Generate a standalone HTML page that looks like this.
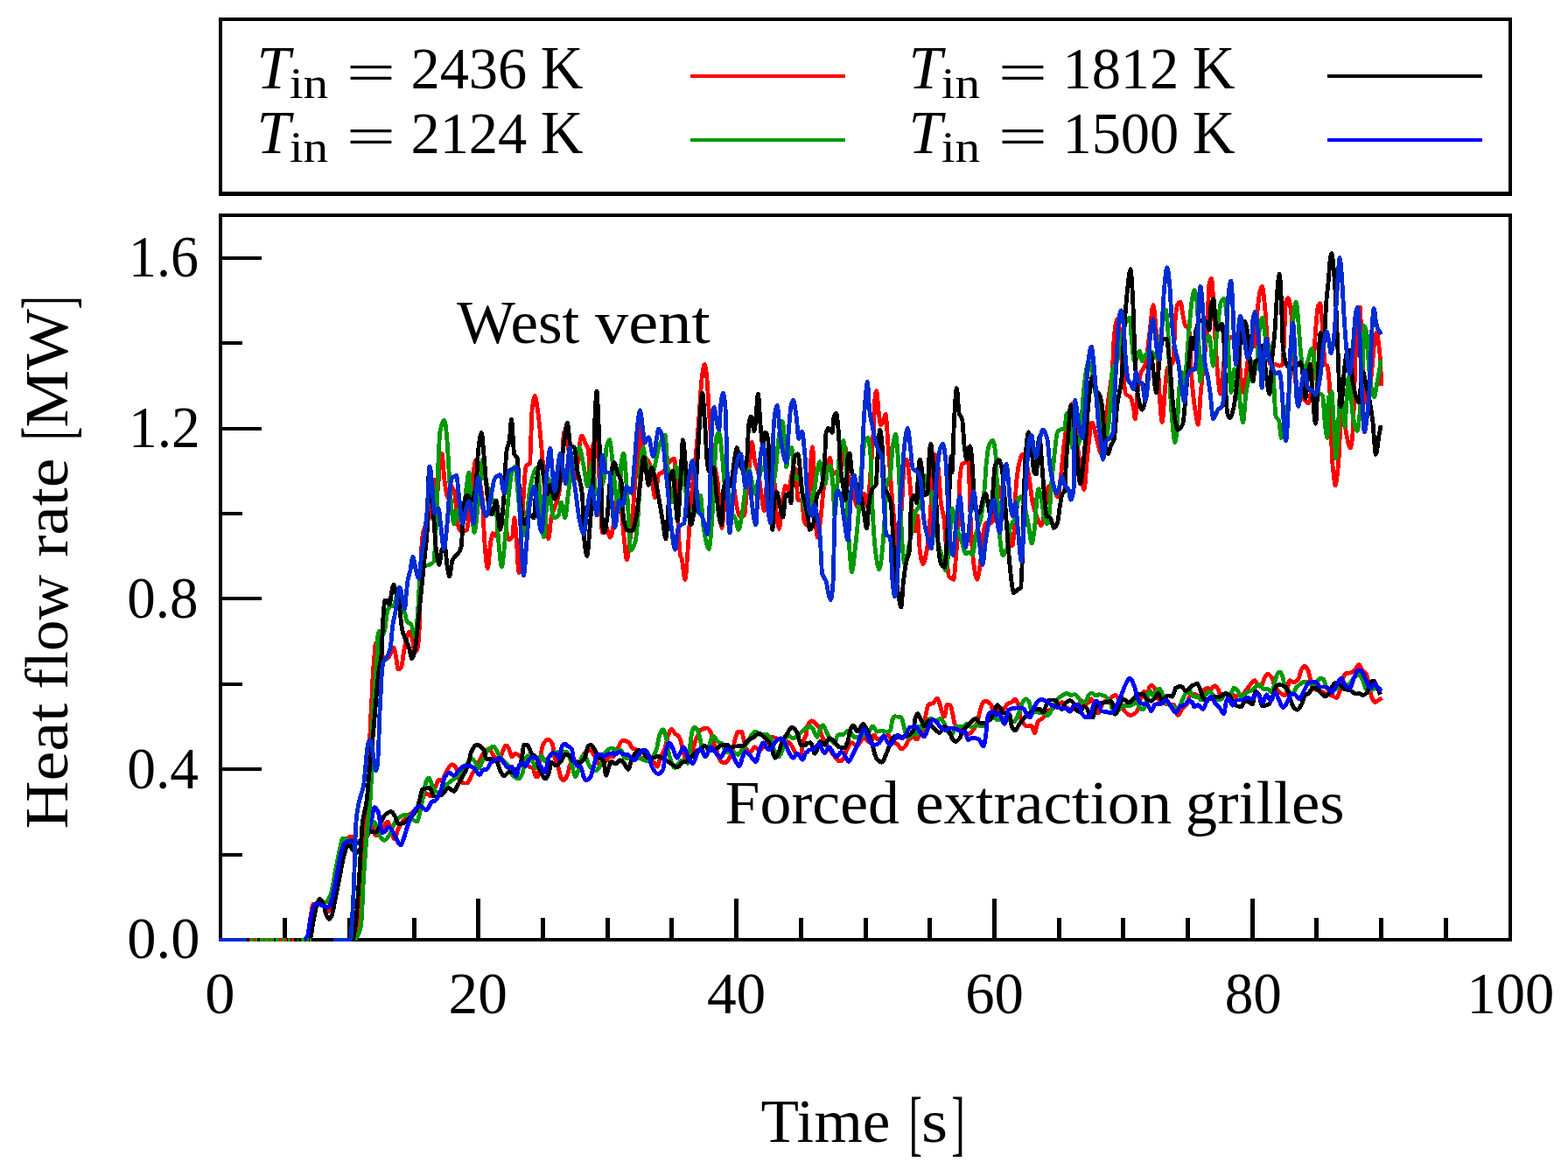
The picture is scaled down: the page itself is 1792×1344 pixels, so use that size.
<!DOCTYPE html>
<html lang="en"><head><meta charset="utf-8"><title>Heat flow rate</title>
<style>
html,body{margin:0;padding:0;background:#fff;}
body{width:1792px;height:1344px;overflow:hidden;}
svg{display:block;}
text{font-family:"Liberation Serif","Times New Roman",serif;fill:#000;white-space:pre;}
.c{fill:none;stroke-width:4.8;stroke-linejoin:round;stroke-linecap:butt;}
.ax{fill:none;stroke:#000;stroke-width:4;stroke-linecap:butt;stroke-linejoin:miter;}
.b{fill:none;stroke-width:4;}
</style></head><body>
<svg width="1792" height="1344" viewBox="0 0 1792 1344">
<rect x="0" y="0" width="1792" height="1344" fill="#ffffff"/>
<g id="axes" shape-rendering="crispEdges">
<path class="ax" d="M252 977H277M252 879H299M252 782H277M252 684H299M252 587H277M252 490H299M252 392H277M252 295H299"/>
<path class="ax" style="stroke-width:5" d="M325.5 1074V1049M399.5 1074V1049M473.5 1074V1049M546.5 1074V1027M620.5 1074V1049M694.5 1074V1049M767.5 1074V1049M841.5 1074V1027M915.5 1074V1049M989.5 1074V1049M1062.5 1074V1049M1136.5 1074V1027M1210.5 1074V1049M1283.5 1074V1049M1357.5 1074V1049M1431.5 1074V1027M1504.5 1074V1049M1578.5 1074V1049M1652.5 1074V1049"/>
<path class="ax" style="stroke-width:1" d="M250 219.5H1728"/>
<rect class="ax" x="252" y="246" width="1474" height="828"/>
<rect class="ax" x="252" y="22" width="1474" height="200"/>
</g>
<g id="curves" shape-rendering="crispEdges">
<path class="c" stroke="#ff0000" d="M348.6 1074.0C349.7 1073.0 350.7 1072.8 351.8 1071.0C352.6 1069.6 353.4 1058.7 354.2 1053.5C355.5 1045.7 356.8 1032.9 358.0 1032.9C360.1 1032.9 362.2 1032.9 364.2 1032.9C366.3 1032.9 368.4 1034.5 370.5 1036.0C372.2 1037.2 373.8 1041.6 375.5 1041.6C377.2 1041.6 378.8 1034.7 380.5 1028.5C382.2 1022.3 383.8 1006.5 385.5 997.2C387.2 988.0 388.8 977.8 390.5 972.2C392.2 966.7 393.8 961.6 395.5 959.8C397.4 957.7 399.2 955.8 401.1 955.8C402.6 955.8 404.0 958.5 405.5 959.8C407.2 961.1 408.8 963.5 410.5 963.5C413.0 963.5 415.5 959.0 418.0 956.0C420.5 953.0 423.0 945.0 425.5 945.0C426.8 945.0 428.0 954.8 429.2 954.8C430.9 954.8 432.6 954.2 434.2 953.5C435.9 952.8 437.6 946.1 439.2 943.5C440.5 941.6 441.8 938.8 443.0 938.8C444.2 938.8 445.5 944.0 446.8 947.2C448.0 950.5 449.2 958.5 450.5 958.5C452.2 958.5 453.8 949.4 455.5 946.2C457.2 943.1 458.8 940.6 460.5 938.5C463.0 935.4 465.5 933.0 468.0 931.0C470.5 929.0 473.0 927.4 475.5 926.0C477.2 925.1 478.8 925.2 480.5 923.5C481.2 922.8 481.8 917.1 482.5 915.0C483.8 911.1 485.0 906.2 486.2 906.2C488.3 906.2 490.4 910.0 492.5 910.0C494.2 910.0 495.8 903.6 497.5 900.0C498.8 897.3 500.0 891.2 501.2 891.2C502.5 891.2 503.8 892.5 505.0 892.5C506.2 892.5 507.5 887.2 508.8 885.0C511.2 880.6 513.8 873.8 516.2 873.8C517.9 873.8 519.6 875.2 521.2 877.5C522.1 878.7 522.9 887.2 523.8 888.8C525.8 892.5 527.9 895.0 530.0 895.0C531.2 895.0 532.5 895.0 533.8 895.0C535.8 895.0 537.9 887.5 540.0 883.8C542.1 880.0 544.2 876.2 546.2 872.5C548.3 868.8 550.4 863.6 552.5 861.2C554.6 858.9 556.7 856.2 558.8 856.2C560.8 856.2 562.9 862.6 565.0 865.0C566.7 866.9 568.3 870.0 570.0 870.0C571.7 870.0 573.3 860.9 575.0 857.5C576.0 855.3 577.1 851.9 578.1 851.9C579.2 851.9 580.2 853.5 581.2 855.0C582.5 856.8 583.8 865.0 585.0 865.0C586.2 865.0 587.5 861.2 588.8 861.2C590.4 861.2 592.1 862.6 593.8 863.8C595.4 864.9 597.1 868.1 598.8 870.0C600.8 872.3 602.9 875.2 605.0 876.2C606.2 876.9 607.5 876.8 608.8 877.5C610.0 878.2 611.2 887.5 612.5 887.5C613.3 887.5 614.2 887.5 615.0 887.5C615.8 887.5 616.7 869.7 617.5 865.0C618.8 857.9 620.0 852.1 621.2 850.0C622.9 847.3 624.6 845.0 626.2 845.0C627.9 845.0 629.6 846.9 631.2 850.0C632.1 851.6 632.9 861.8 633.8 865.0C635.0 869.7 636.2 871.1 637.5 875.0C638.8 878.9 640.0 886.8 641.2 888.8C642.3 890.4 643.3 891.9 644.4 891.9C645.8 891.9 647.3 888.4 648.8 885.0C649.6 883.0 650.4 876.0 651.2 875.0C653.3 872.6 655.4 872.0 657.5 871.2C659.2 870.7 660.8 870.7 662.5 870.0C664.6 869.1 666.7 861.3 668.8 860.0C670.8 858.7 672.9 857.5 675.0 857.5C676.7 857.5 678.3 862.4 680.0 865.0C682.1 868.2 684.2 875.0 686.2 875.0C688.3 875.0 690.4 872.1 692.5 870.0C693.8 868.7 695.0 865.0 696.2 865.0C697.9 865.0 699.6 865.0 701.2 865.0C701.7 865.0 702.1 860.9 702.5 860.0C703.8 857.3 705.0 857.0 706.2 855.0C707.5 853.0 708.8 848.5 710.0 847.5C710.8 846.9 711.7 846.2 712.5 846.2C714.6 846.2 716.7 847.3 718.8 848.8C720.0 849.6 721.2 854.2 722.5 855.0C724.2 856.1 725.8 855.8 727.5 856.9C729.2 857.9 730.8 865.6 732.5 866.2C733.3 866.6 734.2 866.7 735.0 866.9C737.5 867.5 740.0 867.9 742.5 868.8C744.6 869.5 746.7 870.6 748.8 872.5C749.6 873.3 750.4 876.2 751.2 876.2C752.5 876.2 753.8 868.0 755.0 865.0C756.7 861.0 758.3 859.5 760.0 855.0C761.2 851.6 762.5 843.1 763.8 840.0C765.0 836.9 766.2 833.1 767.5 833.1C768.8 833.1 770.0 836.8 771.2 838.1C772.9 839.9 774.6 840.1 776.2 842.5C777.5 844.3 778.8 850.8 780.0 855.0C781.2 859.2 782.5 867.5 783.8 867.5C785.8 867.5 787.9 866.6 790.0 865.0C791.2 864.0 792.5 854.0 793.8 850.0C795.0 846.0 796.2 842.8 797.5 840.0C798.3 838.1 799.2 835.6 800.0 835.0C802.5 833.1 805.0 831.9 807.5 831.9C809.0 831.9 810.4 833.9 811.9 836.2C812.9 837.9 814.0 844.3 815.0 847.5C816.2 851.3 817.5 854.3 818.8 857.5C820.4 861.8 822.1 868.9 823.8 870.0C825.4 871.1 827.1 871.9 828.8 871.9C830.4 871.9 832.1 868.8 833.8 866.2C835.0 864.3 836.2 861.6 837.5 857.5C838.3 854.8 839.2 847.7 840.0 845.0C841.2 840.9 842.5 836.2 843.8 836.2C845.0 836.2 846.2 836.2 847.5 836.2C848.3 836.2 849.2 841.9 850.0 845.0C850.8 848.1 851.7 853.6 852.5 855.0C854.2 857.9 855.8 860.0 857.5 860.0C859.2 860.0 860.8 853.8 862.5 853.8C864.2 853.8 865.8 857.5 867.5 857.5C870.0 857.5 872.5 852.5 875.0 850.0C877.5 847.5 880.0 842.5 882.5 842.5C884.2 842.5 885.8 843.3 887.5 843.8C889.2 844.2 890.8 844.5 892.5 845.0C895.0 845.7 897.5 846.2 900.0 847.5C901.7 848.4 903.3 850.4 905.0 852.5C906.7 854.6 908.3 860.5 910.0 861.2C911.7 862.0 913.3 862.5 915.0 862.5C916.2 862.5 917.5 848.4 918.8 845.0C919.6 842.7 920.4 842.8 921.2 840.0C921.7 838.6 922.1 833.0 922.5 831.2C922.9 829.5 923.3 828.1 923.8 827.5C925.2 825.3 926.7 823.8 928.1 823.8C929.6 823.8 931.0 826.2 932.5 827.5C933.8 828.7 935.0 829.2 936.2 831.2C937.1 832.6 937.9 837.8 938.8 840.0C940.0 843.2 941.2 845.2 942.5 847.5C944.2 850.6 945.8 853.8 947.5 856.2C949.2 858.7 950.8 860.4 952.5 862.5C954.2 864.6 955.8 867.6 957.5 868.8C958.3 869.3 959.2 870.0 960.0 870.0C961.2 870.0 962.5 868.8 963.8 867.5C965.0 866.2 966.2 859.9 967.5 857.5C969.6 853.6 971.7 848.8 973.8 848.8C975.4 848.8 977.1 852.5 978.8 852.5C981.7 852.5 984.6 843.8 987.5 843.8C989.2 843.8 990.8 847.5 992.5 847.5C993.8 847.5 995.0 847.0 996.2 846.2C997.1 845.7 997.9 840.0 998.8 840.0C1000.0 840.0 1001.2 845.0 1002.5 845.0C1005.0 845.0 1007.5 843.5 1010.0 842.5C1011.7 841.8 1013.3 840.0 1015.0 840.0C1016.2 840.0 1017.5 845.0 1018.8 846.2C1021.2 848.8 1023.8 848.9 1026.2 851.2C1027.5 852.4 1028.8 856.2 1030.0 856.2C1031.7 856.2 1033.3 854.4 1035.0 852.5C1036.2 851.1 1037.5 846.0 1038.8 845.0C1040.4 843.6 1042.1 842.5 1043.8 842.5C1045.0 842.5 1046.2 845.0 1047.5 845.0C1048.8 845.0 1050.0 841.7 1051.2 840.0C1052.5 838.3 1053.8 837.8 1055.0 835.0C1055.8 833.1 1056.7 824.1 1057.5 820.0C1058.8 813.9 1060.0 805.6 1061.2 805.0C1062.9 804.2 1064.6 804.4 1066.2 803.8C1067.9 803.1 1069.6 798.1 1071.2 798.1C1072.1 798.1 1072.9 801.5 1073.8 803.8C1075.0 807.1 1076.2 814.0 1077.5 816.2C1078.1 817.4 1078.8 818.8 1079.4 818.8C1080.4 818.8 1081.5 805.0 1082.5 805.0C1083.8 805.0 1085.0 805.4 1086.2 806.2C1087.1 806.8 1087.9 812.7 1088.8 816.2C1089.6 819.8 1090.4 825.7 1091.2 827.5C1092.5 830.2 1093.8 831.3 1095.0 832.5C1097.5 834.8 1100.0 836.6 1102.5 837.5C1104.2 838.1 1105.8 838.8 1107.5 838.8C1109.2 838.8 1110.8 835.9 1112.5 833.8C1113.8 832.2 1115.0 830.4 1116.2 827.5C1117.5 824.6 1118.8 816.5 1120.0 812.5C1121.2 808.5 1122.5 803.5 1123.8 802.5C1124.6 801.8 1125.4 801.2 1126.2 801.2C1128.3 801.2 1130.4 802.7 1132.5 805.0C1133.3 805.9 1134.2 811.6 1135.0 812.5C1136.2 813.9 1137.5 815.0 1138.8 815.0C1140.0 815.0 1141.2 811.9 1142.5 811.9C1143.3 811.9 1144.2 813.8 1145.0 813.8C1145.8 813.8 1146.7 811.1 1147.5 810.0C1149.2 807.7 1150.8 804.6 1152.5 803.8C1153.8 803.1 1155.0 803.1 1156.2 802.5C1157.5 801.9 1158.8 799.4 1160.0 799.4C1161.2 799.4 1162.5 801.9 1163.8 805.0C1164.6 807.1 1165.4 817.4 1166.2 820.0C1167.5 823.9 1168.8 826.2 1170.0 827.5C1171.2 828.8 1172.5 830.0 1173.8 830.0C1175.4 830.0 1177.1 829.4 1178.8 829.4C1180.0 829.4 1181.2 837.5 1182.5 837.5C1183.8 837.5 1185.0 826.7 1186.2 825.0C1188.3 822.2 1190.4 822.2 1192.5 820.0C1194.2 818.2 1195.8 813.8 1197.5 812.5C1199.2 811.2 1200.8 810.9 1202.5 810.0C1205.0 808.6 1207.5 806.7 1210.0 805.0C1211.2 804.2 1212.5 802.5 1213.8 802.5C1215.0 802.5 1216.2 806.5 1217.5 807.5C1220.0 809.4 1222.5 811.2 1225.0 811.2C1227.5 811.2 1230.0 809.9 1232.5 807.5C1233.3 806.7 1234.2 800.0 1235.0 800.0C1236.2 800.0 1237.5 805.0 1238.8 805.0C1240.8 805.0 1242.9 803.9 1245.0 802.5C1245.8 801.9 1246.7 798.8 1247.5 798.8C1248.8 798.8 1250.0 804.8 1251.2 807.5C1252.5 810.2 1253.8 815.0 1255.0 815.0C1256.2 815.0 1257.5 809.8 1258.8 807.5C1260.0 805.2 1261.2 801.8 1262.5 801.2C1264.2 800.5 1265.8 800.7 1267.5 800.0C1268.8 799.5 1270.0 797.1 1271.2 796.2C1272.5 795.4 1273.8 794.4 1275.0 794.4C1276.2 794.4 1277.5 797.7 1278.8 800.0C1280.0 802.3 1281.2 806.7 1282.5 808.8C1284.2 811.5 1285.8 813.7 1287.5 815.0C1289.0 816.1 1290.4 817.5 1291.9 817.5C1293.8 817.5 1295.6 816.4 1297.5 815.0C1298.8 814.1 1300.0 811.9 1301.2 808.8C1302.1 806.7 1302.9 799.7 1303.8 797.5C1305.0 794.1 1306.2 790.6 1307.5 790.6C1308.8 790.6 1310.0 796.2 1311.2 796.2C1312.1 796.2 1312.9 786.1 1313.8 785.0C1314.6 783.9 1315.4 783.1 1316.2 783.1C1317.5 783.1 1318.8 785.2 1320.0 787.5C1320.8 789.1 1321.7 796.1 1322.5 797.5C1324.2 800.4 1325.8 801.6 1327.5 802.5C1330.0 803.8 1332.5 805.0 1335.0 805.0C1337.1 805.0 1339.2 805.0 1341.2 805.0C1342.9 805.0 1344.6 817.5 1346.2 817.5C1347.9 817.5 1349.6 812.0 1351.2 810.0C1352.9 808.0 1354.6 807.5 1356.2 805.0C1357.5 803.1 1358.8 796.4 1360.0 795.0C1360.8 794.1 1361.7 793.1 1362.5 793.1C1363.8 793.1 1365.0 793.5 1366.2 793.8C1368.3 794.2 1370.4 796.2 1372.5 796.2C1373.8 796.2 1375.0 790.0 1376.2 788.8C1377.5 787.5 1378.8 786.2 1380.0 786.2C1381.2 786.2 1382.5 788.8 1383.8 788.8C1384.6 788.8 1385.4 785.6 1386.2 785.0C1387.1 784.4 1387.9 783.8 1388.8 783.8C1390.0 783.8 1391.2 786.7 1392.5 788.8C1393.3 790.1 1394.2 793.8 1395.0 793.8C1397.1 793.8 1399.2 793.8 1401.2 793.8C1403.3 793.8 1405.4 792.5 1407.5 792.5C1408.8 792.5 1410.0 796.2 1411.2 796.2C1412.5 796.2 1413.8 795.4 1415.0 795.0C1416.7 794.5 1418.3 794.4 1420.0 793.8C1421.7 793.1 1423.3 789.6 1425.0 787.5C1426.7 785.4 1428.3 783.1 1430.0 781.2C1431.2 779.9 1432.5 777.5 1433.8 777.5C1435.0 777.5 1436.2 781.4 1437.5 782.5C1438.8 783.6 1440.0 785.0 1441.2 785.0C1442.5 785.0 1443.8 777.2 1445.0 775.0C1446.2 772.8 1447.5 770.0 1448.8 770.0C1450.4 770.0 1452.1 772.4 1453.8 775.0C1455.0 776.9 1456.2 784.3 1457.5 786.2C1459.2 788.8 1460.8 790.0 1462.5 791.2C1464.6 792.8 1466.7 795.0 1468.8 795.0C1469.6 795.0 1470.4 790.4 1471.2 787.5C1472.1 784.6 1472.9 777.5 1473.8 777.5C1475.4 777.5 1477.1 780.0 1478.8 780.0C1480.4 780.0 1482.1 778.3 1483.8 776.2C1485.0 774.7 1486.2 766.9 1487.5 765.0C1488.8 763.1 1490.0 761.2 1491.2 761.2C1492.5 761.2 1493.8 763.7 1495.0 766.2C1495.8 768.0 1496.7 773.4 1497.5 776.2C1498.8 780.6 1500.0 786.9 1501.2 787.5C1502.9 788.3 1504.6 788.2 1506.2 788.8C1508.3 789.4 1510.4 790.3 1512.5 791.2C1514.2 792.0 1515.8 793.2 1517.5 793.8C1519.2 794.3 1520.8 794.4 1522.5 795.0C1524.2 795.6 1525.8 797.5 1527.5 797.5C1528.8 797.5 1530.0 793.3 1531.2 790.0C1532.5 786.7 1533.8 778.3 1535.0 775.0C1535.8 772.8 1536.7 770.3 1537.5 770.0C1539.6 769.1 1541.7 769.4 1543.8 768.8C1545.4 768.2 1547.1 766.6 1548.8 765.0C1550.2 763.6 1551.7 759.4 1553.1 759.4C1554.2 759.4 1555.2 763.6 1556.2 765.0C1557.9 767.2 1559.6 767.3 1561.2 770.0C1562.5 772.1 1563.8 779.7 1565.0 785.0C1565.8 788.5 1566.7 794.2 1567.5 796.2C1568.8 799.4 1570.0 802.5 1571.2 802.5C1573.3 802.5 1575.4 800.1 1577.5 798.8C1578.1 798.4 1578.8 797.9 1579.4 797.5"/>
<path class="c" stroke="#009900" d="M349.9 1074.0C350.9 1073.0 352.0 1072.7 353.0 1071.0C354.0 1069.3 355.1 1059.5 356.1 1053.5C357.2 1047.5 358.2 1036.0 359.2 1034.8C360.9 1032.7 362.6 1031.6 364.2 1031.6C366.8 1031.6 369.2 1031.6 371.8 1031.6C373.8 1031.6 375.9 1027.2 378.0 1022.2C379.7 1018.3 381.3 1005.6 383.0 997.2C384.7 988.9 386.3 979.4 388.0 972.2C389.2 966.9 390.5 958.1 391.8 958.1C393.4 958.1 395.1 959.2 396.8 959.8C398.8 960.5 400.9 962.2 403.0 962.2C405.5 962.2 408.0 961.7 410.5 961.0C413.0 960.3 415.5 956.9 418.0 953.5C419.7 951.2 421.3 945.3 423.0 943.5C424.7 941.7 426.3 939.8 428.0 939.8C429.7 939.8 431.3 950.8 433.0 953.5C435.1 956.8 437.2 960.4 439.2 960.4C441.3 960.4 443.4 956.8 445.5 953.5C446.8 951.5 448.0 946.1 449.2 943.8C451.3 939.8 453.4 936.2 455.5 934.8C458.0 933.0 460.5 931.2 463.0 931.2C465.1 931.2 467.2 933.6 469.2 934.8C471.8 936.2 474.2 939.1 476.8 939.1C477.6 939.1 478.4 934.0 479.2 931.0C480.1 928.0 480.9 925.7 481.8 921.0C482.0 919.6 482.2 916.8 482.5 915.0C483.3 909.1 484.2 902.9 485.0 900.0C486.7 894.3 488.3 888.8 490.0 888.8C491.7 888.8 493.3 897.2 495.0 900.0C496.2 902.1 497.5 904.5 498.8 905.0C500.8 905.8 502.9 906.2 505.0 906.2C507.1 906.2 509.2 898.6 511.2 896.2C513.8 893.5 516.2 892.3 518.8 890.0C522.5 886.6 526.2 883.4 530.0 878.8C531.7 876.7 533.3 872.9 535.0 871.2C536.7 869.6 538.3 867.5 540.0 867.5C542.5 867.5 545.0 877.5 547.5 877.5C548.8 877.5 550.0 872.5 551.2 870.0C553.3 865.8 555.4 859.7 557.5 857.5C559.6 855.3 561.7 853.1 563.8 853.1C565.0 853.1 566.2 855.7 567.5 857.5C568.8 859.3 570.0 863.3 571.2 865.0C573.3 867.9 575.4 868.9 577.5 871.2C579.2 873.1 580.8 874.4 582.5 877.5C583.3 879.0 584.2 884.0 585.0 885.0C587.7 888.1 590.4 890.0 593.1 890.0C594.6 890.0 596.0 886.6 597.5 882.5C598.3 880.2 599.2 869.2 600.0 867.5C601.0 865.4 602.1 863.8 603.1 863.8C604.6 863.8 606.0 865.8 607.5 867.5C609.2 869.5 610.8 877.5 612.5 877.5C613.3 877.5 614.2 871.8 615.0 870.0C616.2 867.3 617.5 863.8 618.8 863.8C620.0 863.8 621.2 870.0 622.5 870.0C624.2 870.0 625.8 866.4 627.5 865.0C630.0 863.0 632.5 860.3 635.0 860.0C639.2 859.6 643.3 859.4 647.5 859.4C649.2 859.4 650.8 865.6 652.5 870.0C654.2 874.4 655.8 887.5 657.5 887.5C658.8 887.5 660.0 883.3 661.2 880.0C662.5 876.7 663.8 866.4 665.0 865.0C666.2 863.6 667.5 862.5 668.8 862.5C669.6 862.5 670.4 868.0 671.2 870.0C672.5 873.0 673.8 876.1 675.0 877.5C676.7 879.4 678.3 881.2 680.0 881.2C682.1 881.2 684.2 878.1 686.2 875.0C687.9 872.5 689.6 863.5 691.2 861.2C693.8 857.9 696.2 855.0 698.8 855.0C699.6 855.0 700.4 855.3 701.2 855.6C701.7 855.8 702.1 856.6 702.5 856.9C702.9 857.2 703.3 857.5 703.8 857.5C705.8 857.5 707.9 857.5 710.0 857.5C711.2 857.5 712.5 866.2 713.8 866.2C715.8 866.2 717.9 866.2 720.0 866.2C723.3 866.2 726.7 866.2 730.0 866.2C733.3 866.2 736.7 870.0 740.0 870.0C743.3 870.0 746.7 864.7 750.0 857.5C751.2 854.8 752.5 843.1 753.8 840.0C755.0 836.9 756.2 833.8 757.5 833.8C758.8 833.8 760.0 838.4 761.2 842.5C762.5 846.6 763.8 859.6 765.0 863.8C767.1 870.6 769.2 877.5 771.2 877.5C773.3 877.5 775.4 870.8 777.5 870.0C779.2 869.3 780.8 868.8 782.5 868.8C783.8 868.8 785.0 872.5 786.2 872.5C787.1 872.5 787.9 857.4 788.8 851.2C789.6 845.1 790.4 836.7 791.2 835.0C792.3 832.8 793.3 831.2 794.4 831.2C795.8 831.2 797.3 835.0 798.8 838.8C799.6 840.9 800.4 846.9 801.2 850.0C802.9 856.1 804.6 865.0 806.2 865.0C807.5 865.0 808.8 861.2 810.0 857.5C810.8 855.0 811.7 846.7 812.5 845.0C813.5 842.9 814.6 841.2 815.6 841.2C817.1 841.2 818.5 846.4 820.0 847.5C821.7 848.7 823.3 848.7 825.0 850.0C826.7 851.3 828.3 860.0 830.0 860.0C832.1 860.0 834.2 858.8 836.2 858.8C838.8 858.8 841.2 862.5 843.8 862.5C845.0 862.5 846.2 859.2 847.5 857.5C850.0 854.2 852.5 851.6 855.0 847.5C856.2 845.5 857.5 841.4 858.8 840.0C860.4 838.1 862.1 836.2 863.8 836.2C865.8 836.2 867.9 840.0 870.0 840.0C872.1 840.0 874.2 839.4 876.2 839.4C877.9 839.4 879.6 842.1 881.2 845.0C882.5 847.2 883.8 854.9 885.0 857.5C886.7 861.0 888.3 865.0 890.0 865.0C891.7 865.0 893.3 859.0 895.0 855.0C896.7 851.0 898.3 840.0 900.0 840.0C902.1 840.0 904.2 843.8 906.2 843.8C908.3 843.8 910.4 841.6 912.5 840.0C914.2 838.7 915.8 836.5 917.5 835.0C918.8 833.9 920.0 831.9 921.2 831.9C921.7 831.9 922.1 832.5 922.5 832.5C923.3 832.5 924.2 830.0 925.0 830.0C926.2 830.0 927.5 831.3 928.8 832.5C930.4 834.1 932.1 842.5 933.8 842.5C935.0 842.5 936.2 834.5 937.5 832.5C938.5 830.8 939.6 828.8 940.6 828.8C942.1 828.8 943.5 834.9 945.0 837.5C946.2 839.8 947.5 842.0 948.8 843.8C950.4 846.1 952.1 850.0 953.8 850.0C955.0 850.0 956.2 840.3 957.5 840.0C959.6 839.6 961.7 839.8 963.8 839.4C965.4 839.1 967.1 835.0 968.8 835.0C970.0 835.0 971.2 836.4 972.5 837.5C973.8 838.6 975.0 842.5 976.2 842.5C977.9 842.5 979.6 842.5 981.2 842.5C983.3 842.5 985.4 841.1 987.5 840.0C989.6 838.9 991.7 837.1 993.8 835.0C995.0 833.7 996.2 830.0 997.5 830.0C999.2 830.0 1000.8 836.2 1002.5 836.2C1004.2 836.2 1005.8 835.0 1007.5 835.0C1009.2 835.0 1010.8 836.2 1012.5 836.2C1014.2 836.2 1015.8 835.9 1017.5 835.0C1018.3 834.6 1019.2 824.4 1020.0 822.5C1020.8 820.6 1021.7 818.8 1022.5 818.8C1025.0 818.8 1027.5 819.1 1030.0 820.0C1030.8 820.3 1031.7 824.6 1032.5 827.5C1033.3 830.4 1034.2 835.8 1035.0 837.5C1036.2 840.1 1037.5 842.5 1038.8 842.5C1040.8 842.5 1042.9 837.5 1045.0 837.5C1045.8 837.5 1046.7 840.0 1047.5 840.0C1048.3 840.0 1049.2 830.0 1050.0 830.0C1051.7 830.0 1053.3 832.5 1055.0 832.5C1056.2 832.5 1057.5 826.4 1058.8 825.0C1060.4 823.1 1062.1 821.2 1063.8 821.2C1065.8 821.2 1067.9 823.8 1070.0 823.8C1071.7 823.8 1073.3 821.2 1075.0 821.2C1076.2 821.2 1077.5 824.1 1078.8 826.2C1080.0 828.4 1081.2 833.2 1082.5 835.0C1084.2 837.4 1085.8 840.0 1087.5 840.0C1089.2 840.0 1090.8 830.0 1092.5 830.0C1094.2 830.0 1095.8 830.0 1097.5 830.0C1098.8 830.0 1100.0 830.0 1101.2 830.0C1102.5 830.0 1103.8 826.9 1105.0 826.9C1106.7 826.9 1108.3 831.2 1110.0 831.2C1112.1 831.2 1114.2 828.8 1116.2 828.8C1118.3 828.8 1120.4 830.0 1122.5 830.0C1124.2 830.0 1125.8 826.4 1127.5 825.0C1130.0 823.0 1132.5 820.0 1135.0 820.0C1136.7 820.0 1138.3 822.5 1140.0 822.5C1140.8 822.5 1141.7 821.9 1142.5 821.9C1142.9 821.9 1143.3 822.5 1143.8 822.5C1145.0 822.5 1146.2 820.0 1147.5 820.0C1149.2 820.0 1150.8 821.8 1152.5 822.5C1154.6 823.4 1156.7 825.0 1158.8 825.0C1160.4 825.0 1162.1 819.8 1163.8 816.2C1165.4 812.7 1167.1 804.9 1168.8 802.5C1170.0 800.7 1171.2 798.8 1172.5 798.8C1173.8 798.8 1175.0 800.4 1176.2 802.5C1177.1 803.9 1177.9 812.1 1178.8 812.5C1180.4 813.4 1182.1 813.4 1183.8 813.8C1186.7 814.3 1189.6 814.3 1192.5 815.0C1194.2 815.4 1195.8 817.5 1197.5 817.5C1198.8 817.5 1200.0 814.5 1201.2 812.5C1202.5 810.5 1203.8 807.2 1205.0 805.0C1206.7 802.1 1208.3 799.0 1210.0 797.5C1211.7 796.0 1213.3 795.3 1215.0 794.4C1216.2 793.7 1217.5 792.5 1218.8 792.5C1220.4 792.5 1222.1 794.4 1223.8 794.4C1225.4 794.4 1227.1 793.8 1228.8 793.8C1230.0 793.8 1231.2 796.1 1232.5 797.5C1233.8 798.9 1235.0 802.5 1236.2 802.5C1237.9 802.5 1239.6 802.1 1241.2 801.2C1242.1 800.8 1242.9 796.1 1243.8 795.0C1245.0 793.4 1246.2 791.9 1247.5 791.9C1249.2 791.9 1250.8 795.0 1252.5 795.0C1253.8 795.0 1255.0 793.8 1256.2 793.8C1258.8 793.8 1261.2 794.9 1263.8 796.2C1265.4 797.2 1267.1 799.4 1268.8 802.5C1269.6 804.0 1270.4 808.2 1271.2 810.0C1272.5 812.7 1273.8 816.2 1275.0 816.2C1276.2 816.2 1277.5 812.7 1278.8 811.2C1280.4 809.3 1282.1 806.2 1283.8 806.2C1286.7 806.2 1289.6 806.2 1292.5 806.2C1294.6 806.2 1296.7 802.5 1298.8 802.5C1300.0 802.5 1301.2 807.2 1302.5 808.8C1303.3 809.8 1304.2 811.2 1305.0 811.2C1306.2 811.2 1307.5 809.5 1308.8 807.5C1310.0 805.5 1311.2 794.4 1312.5 792.5C1313.3 791.2 1314.2 790.0 1315.0 790.0C1315.8 790.0 1316.7 795.0 1317.5 795.0C1318.3 795.0 1319.2 793.4 1320.0 792.5C1321.7 790.7 1323.3 786.9 1325.0 786.9C1326.2 786.9 1327.5 790.7 1328.8 793.8C1329.6 795.8 1330.4 801.7 1331.2 802.5C1332.9 804.1 1334.6 804.1 1336.2 805.0C1338.3 806.1 1340.4 807.9 1342.5 808.8C1343.8 809.3 1345.0 810.0 1346.2 810.0C1347.9 810.0 1349.6 803.3 1351.2 800.0C1352.5 797.5 1353.8 793.5 1355.0 792.5C1356.7 791.1 1358.3 790.0 1360.0 790.0C1360.8 790.0 1361.7 794.3 1362.5 795.0C1363.3 795.7 1364.2 796.2 1365.0 796.2C1366.2 796.2 1367.5 796.2 1368.8 796.2C1370.0 796.2 1371.2 800.0 1372.5 800.0C1374.2 800.0 1375.8 796.8 1377.5 795.0C1379.0 793.4 1380.4 790.0 1381.9 790.0C1383.3 790.0 1384.8 792.3 1386.2 793.8C1387.9 795.4 1389.6 800.0 1391.2 800.0C1392.9 800.0 1394.6 799.5 1396.2 798.8C1397.5 798.2 1398.8 792.5 1400.0 792.5C1402.1 792.5 1404.2 793.8 1406.2 793.8C1407.5 793.8 1408.8 786.2 1410.0 786.2C1411.7 786.2 1413.3 788.1 1415.0 790.0C1416.2 791.4 1417.5 797.5 1418.8 797.5C1420.0 797.5 1421.2 794.9 1422.5 793.8C1423.8 792.6 1425.0 791.3 1426.2 790.6C1427.9 789.7 1429.6 789.7 1431.2 788.8C1432.5 788.1 1433.8 785.8 1435.0 785.0C1436.7 783.9 1438.3 782.5 1440.0 782.5C1441.2 782.5 1442.5 787.5 1443.8 787.5C1445.4 787.5 1447.1 787.5 1448.8 787.5C1450.4 787.5 1452.1 791.2 1453.8 791.2C1455.0 791.2 1456.2 781.6 1457.5 777.5C1458.3 774.8 1459.2 770.9 1460.0 770.0C1461.0 768.9 1462.1 768.1 1463.1 768.1C1464.2 768.1 1465.2 771.9 1466.2 775.0C1467.1 777.5 1467.9 784.8 1468.8 786.2C1470.0 788.4 1471.2 789.2 1472.5 790.0C1474.2 791.1 1475.8 792.5 1477.5 792.5C1478.8 792.5 1480.0 787.8 1481.2 786.2C1482.5 784.7 1483.8 783.5 1485.0 782.5C1486.7 781.2 1488.3 779.4 1490.0 779.4C1491.7 779.4 1493.3 779.7 1495.0 780.0C1496.7 780.3 1498.3 783.1 1500.0 783.1C1501.7 783.1 1503.3 781.4 1505.0 780.0C1506.2 778.9 1507.5 775.0 1508.8 775.0C1510.0 775.0 1511.2 775.5 1512.5 776.2C1513.8 777.0 1515.0 784.7 1516.2 786.2C1517.9 788.3 1519.6 790.0 1521.2 790.0C1523.8 790.0 1526.2 787.6 1528.8 786.2C1530.8 785.1 1532.9 782.5 1535.0 782.5C1537.1 782.5 1539.2 782.5 1541.2 782.5C1542.5 782.5 1543.8 778.9 1545.0 777.5C1546.7 775.6 1548.3 773.3 1550.0 772.5C1551.2 771.9 1552.5 771.2 1553.8 771.2C1555.0 771.2 1556.2 774.9 1557.5 777.5C1558.8 780.1 1560.0 786.9 1561.2 787.5C1562.9 788.3 1564.6 788.8 1566.2 788.8C1568.3 788.8 1570.4 786.2 1572.5 786.2C1574.6 786.2 1576.7 787.1 1578.8 787.5"/>
<path class="c" stroke="#000000" d="M351.8 1074.0C352.8 1073.0 353.8 1072.7 354.9 1071.0C355.9 1069.3 357.0 1058.9 358.0 1053.5C359.2 1047.0 360.5 1039.0 361.8 1035.4C363.0 1031.7 364.2 1027.5 365.5 1027.5C366.8 1027.5 368.0 1029.9 369.2 1032.2C370.5 1034.6 371.8 1043.5 373.0 1046.0C374.0 1048.1 375.1 1050.4 376.1 1050.4C377.2 1050.4 378.2 1048.2 379.2 1046.0C380.5 1043.4 381.8 1034.5 383.0 1028.5C384.7 1020.5 386.3 1011.8 388.0 1003.5C389.7 995.2 391.3 984.6 393.0 978.5C394.2 973.9 395.5 968.4 396.8 967.5C397.8 966.8 398.8 966.2 399.9 966.2C400.9 966.2 402.0 969.7 403.0 971.0C404.2 972.5 405.5 974.8 406.8 974.8C409.2 974.8 411.8 969.4 414.2 966.0C417.4 961.7 420.5 950.4 423.6 950.4C425.5 950.4 427.4 951.2 429.2 951.2C430.3 951.2 431.3 949.4 432.4 947.9C433.8 945.7 435.3 939.3 436.8 936.6C438.4 933.6 440.1 930.9 441.8 929.8C443.4 928.6 445.1 927.5 446.8 927.5C448.2 927.5 449.7 930.1 451.1 932.2C452.6 934.4 454.0 941.6 455.5 941.6C457.2 941.6 458.8 941.4 460.5 941.0C462.2 940.6 463.8 938.9 465.5 937.5C467.2 936.1 468.8 934.0 470.5 932.2C471.8 931.0 473.0 930.2 474.2 928.5C475.9 926.2 477.6 921.3 479.2 916.0C480.3 912.6 481.4 903.2 482.5 902.5C483.8 901.7 485.0 901.5 486.2 901.2C487.9 900.9 489.6 900.6 491.2 900.6C492.7 900.6 494.2 910.0 495.6 910.0C497.1 910.0 498.5 910.0 500.0 910.0C501.7 910.0 503.3 909.0 505.0 908.1C507.5 906.8 510.0 900.6 512.5 900.6C514.6 900.6 516.7 904.4 518.8 904.4C520.4 904.4 522.1 899.1 523.8 896.2C525.8 892.7 527.9 889.0 530.0 885.0C531.2 882.6 532.5 880.7 533.8 877.5C534.6 875.3 535.4 871.9 536.2 868.8C537.1 865.6 537.9 860.4 538.8 858.8C540.8 854.6 542.9 851.2 545.0 851.2C547.5 851.2 550.0 853.3 552.5 856.2C553.8 857.7 555.0 867.5 556.2 867.5C557.9 867.5 559.6 867.5 561.2 867.5C563.3 867.5 565.4 868.5 567.5 870.0C569.2 871.2 570.8 879.9 572.5 882.5C573.8 884.5 575.0 886.9 576.2 886.9C577.9 886.9 579.6 882.8 581.2 882.5C583.3 882.1 585.4 882.3 587.5 881.9C589.2 881.6 590.8 879.8 592.5 877.5C593.8 875.8 595.0 872.4 596.2 867.5C597.1 864.3 597.9 851.2 598.8 851.2C600.0 851.2 601.2 851.2 602.5 851.2C604.2 851.2 605.8 859.4 607.5 861.2C609.2 863.1 610.8 862.9 612.5 865.0C613.8 866.6 615.0 874.6 616.2 877.5C618.8 883.3 621.2 890.0 623.8 890.0C625.0 890.0 626.2 886.1 627.5 882.5C628.3 880.1 629.2 871.2 630.0 871.2C631.7 871.2 633.3 875.0 635.0 875.0C637.1 875.0 639.2 872.3 641.2 870.0C642.9 868.2 644.6 861.9 646.2 861.9C647.9 861.9 649.6 862.7 651.2 863.8C652.5 864.5 653.8 869.3 655.0 870.0C657.1 871.1 659.2 871.9 661.2 871.9C663.3 871.9 665.4 869.9 667.5 867.5C669.2 865.6 670.8 853.8 672.5 852.5C673.3 851.8 674.2 851.2 675.0 851.2C676.7 851.2 678.3 855.1 680.0 857.5C681.7 859.9 683.3 864.5 685.0 866.2C686.7 868.0 688.3 867.5 690.0 870.0C690.8 871.2 691.7 886.2 692.5 886.2C693.8 886.2 695.0 878.0 696.2 875.0C697.1 873.0 697.9 870.0 698.8 870.0C699.6 870.0 700.4 871.4 701.2 871.9C701.7 872.1 702.1 872.3 702.5 872.5C702.9 872.7 703.3 873.1 703.8 873.1C705.4 873.1 707.1 868.8 708.8 868.8C710.0 868.8 711.2 870.1 712.5 871.2C714.4 872.9 716.2 879.4 718.1 879.4C719.2 879.4 720.2 872.5 721.2 870.0C722.5 867.0 723.8 864.2 725.0 862.5C726.7 860.2 728.3 857.5 730.0 857.5C731.7 857.5 733.3 858.8 735.0 860.0C736.7 861.2 738.3 866.2 740.0 866.2C742.1 866.2 744.2 866.2 746.2 866.2C747.9 866.2 749.6 864.4 751.2 864.4C752.9 864.4 754.6 865.4 756.2 866.2C757.5 866.9 758.8 868.0 760.0 868.8C761.7 869.7 763.3 870.2 765.0 871.2C766.7 872.2 768.3 874.1 770.0 875.0C771.5 875.8 772.9 876.9 774.4 876.9C776.2 876.9 778.1 872.0 780.0 871.2C781.7 870.6 783.3 870.7 785.0 870.0C786.7 869.3 788.3 866.7 790.0 865.0C792.1 862.9 794.2 860.5 796.2 858.8C797.9 857.3 799.6 856.0 801.2 855.0C802.9 854.0 804.6 852.5 806.2 852.5C807.5 852.5 808.8 857.5 810.0 857.5C811.7 857.5 813.3 857.5 815.0 857.5C816.7 857.5 818.3 856.1 820.0 855.0C821.2 854.2 822.5 852.1 823.8 851.9C826.2 851.5 828.8 851.2 831.2 851.2C832.5 851.2 833.8 855.0 835.0 855.0C836.2 855.0 837.5 853.3 838.8 853.1C842.5 852.7 846.2 853.0 850.0 852.5C851.2 852.3 852.5 848.0 853.8 846.9C856.2 844.7 858.8 844.1 861.2 842.5C863.3 841.2 865.4 838.1 867.5 838.1C869.2 838.1 870.8 840.5 872.5 841.9C874.6 843.7 876.7 845.0 878.8 848.1C880.0 850.0 881.2 854.2 882.5 857.5C883.5 860.3 884.6 866.2 885.6 866.2C887.1 866.2 888.5 862.9 890.0 860.0C891.2 857.5 892.5 850.1 893.8 847.5C895.4 844.0 897.1 842.4 898.8 840.0C900.8 837.0 902.9 831.2 905.0 831.2C907.1 831.2 909.2 834.1 911.2 837.5C912.5 839.6 913.8 850.9 915.0 851.2C916.7 851.7 918.3 851.9 920.0 851.9C920.8 851.9 921.7 849.6 922.5 849.4C923.8 849.0 925.0 848.8 926.2 848.8C927.9 848.8 929.6 861.2 931.2 861.2C933.3 861.2 935.4 847.5 937.5 847.5C939.2 847.5 940.8 851.2 942.5 851.2C944.2 851.2 945.8 843.8 947.5 843.8C949.2 843.8 950.8 845.1 952.5 846.2C954.6 847.7 956.7 853.0 958.8 853.8C960.8 854.5 962.9 855.0 965.0 855.0C966.2 855.0 967.5 850.8 968.8 847.5C970.0 844.2 971.2 835.1 972.5 832.5C973.3 830.7 974.2 828.8 975.0 828.8C976.7 828.8 978.3 836.2 980.0 836.2C982.1 836.2 984.2 827.5 986.2 827.5C987.9 827.5 989.6 831.8 991.2 835.0C992.9 838.2 994.6 843.5 996.2 848.8C997.5 852.7 998.8 859.1 1000.0 862.5C1000.8 864.8 1001.7 867.3 1002.5 868.1C1004.4 869.9 1006.2 871.2 1008.1 871.2C1009.6 871.2 1011.0 865.7 1012.5 862.5C1014.2 858.8 1015.8 853.4 1017.5 850.0C1019.2 846.6 1020.8 841.2 1022.5 841.2C1024.6 841.2 1026.7 842.5 1028.8 842.5C1032.1 842.5 1035.4 841.4 1038.8 840.0C1040.4 839.3 1042.1 838.1 1043.8 835.0C1044.6 833.4 1045.4 822.3 1046.2 820.0C1047.1 817.7 1047.9 815.6 1048.8 815.6C1050.0 815.6 1051.2 820.1 1052.5 822.5C1053.8 824.9 1055.0 830.0 1056.2 830.0C1057.9 830.0 1059.6 823.8 1061.2 823.8C1062.5 823.8 1063.8 828.4 1065.0 830.0C1066.7 832.1 1068.3 833.7 1070.0 835.0C1071.2 836.0 1072.5 837.5 1073.8 837.5C1075.8 837.5 1077.9 830.0 1080.0 830.0C1081.7 830.0 1083.3 833.5 1085.0 836.2C1086.2 838.3 1087.5 843.5 1088.8 845.0C1089.8 846.2 1090.8 847.5 1091.9 847.5C1093.8 847.5 1095.6 845.3 1097.5 842.5C1098.3 841.3 1099.2 836.3 1100.0 835.0C1101.7 832.4 1103.3 831.7 1105.0 830.0C1106.7 828.3 1108.3 826.4 1110.0 825.0C1111.7 823.6 1113.3 821.2 1115.0 821.2C1116.7 821.2 1118.3 826.2 1120.0 826.2C1121.7 826.2 1123.3 826.2 1125.0 826.2C1127.5 826.2 1130.0 823.9 1132.5 821.2C1134.2 819.5 1135.8 813.2 1137.5 810.0C1138.3 808.4 1139.2 805.6 1140.0 805.6C1140.8 805.6 1141.7 807.8 1142.5 808.8C1142.9 809.2 1143.3 809.5 1143.8 810.0C1144.6 811.1 1145.4 815.0 1146.2 815.0C1147.5 815.0 1148.8 815.0 1150.0 815.0C1151.2 815.0 1152.5 815.4 1153.8 816.2C1154.6 816.8 1155.4 828.1 1156.2 830.0C1157.5 832.8 1158.8 835.0 1160.0 835.0C1161.7 835.0 1163.3 829.7 1165.0 827.5C1167.1 824.7 1169.2 822.3 1171.2 820.0C1172.9 818.2 1174.6 816.3 1176.2 815.0C1178.3 813.4 1180.4 812.0 1182.5 811.2C1184.2 810.7 1185.8 810.0 1187.5 810.0C1189.2 810.0 1190.8 813.8 1192.5 813.8C1193.8 813.8 1195.0 807.7 1196.2 805.0C1197.1 803.2 1197.9 800.0 1198.8 800.0C1201.2 800.0 1203.8 800.0 1206.2 800.0C1207.5 800.0 1208.8 806.0 1210.0 807.5C1211.2 809.0 1212.5 810.6 1213.8 810.6C1215.0 810.6 1216.2 804.9 1217.5 803.8C1219.2 802.2 1220.8 800.6 1222.5 800.6C1223.8 800.6 1225.0 801.5 1226.2 802.5C1227.5 803.5 1228.8 810.0 1230.0 811.2C1231.2 812.5 1232.5 813.8 1233.8 813.8C1235.4 813.8 1237.1 807.5 1238.8 807.5C1240.0 807.5 1241.2 808.7 1242.5 810.0C1243.8 811.3 1245.0 820.0 1246.2 820.0C1247.1 820.0 1247.9 820.0 1248.8 820.0C1250.0 820.0 1251.2 809.1 1252.5 807.5C1254.2 805.4 1255.8 804.2 1257.5 803.8C1260.0 803.0 1262.5 803.0 1265.0 802.5C1266.7 802.2 1268.3 801.2 1270.0 801.2C1270.8 801.2 1271.7 804.7 1272.5 807.5C1273.1 809.6 1273.8 816.2 1274.4 816.2C1275.8 816.2 1277.3 810.2 1278.8 807.5C1280.4 804.4 1282.1 798.8 1283.8 798.8C1285.8 798.8 1287.9 803.1 1290.0 803.1C1292.1 803.1 1294.2 799.3 1296.2 797.5C1297.9 796.0 1299.6 793.1 1301.2 793.1C1302.9 793.1 1304.6 793.1 1306.2 793.1C1307.5 793.1 1308.8 797.8 1310.0 798.8C1311.7 800.0 1313.3 801.2 1315.0 801.2C1316.7 801.2 1318.3 799.1 1320.0 797.5C1321.2 796.3 1322.5 792.5 1323.8 792.5C1325.0 792.5 1326.2 800.0 1327.5 800.0C1330.0 800.0 1332.5 795.0 1335.0 795.0C1336.7 795.0 1338.3 796.2 1340.0 796.2C1341.2 796.2 1342.5 787.0 1343.8 786.2C1345.8 785.0 1347.9 784.4 1350.0 784.4C1351.7 784.4 1353.3 789.4 1355.0 789.4C1357.1 789.4 1359.2 787.0 1361.2 785.0C1361.7 784.6 1362.1 783.7 1362.5 783.5C1362.9 783.3 1363.3 783.3 1363.8 783.1C1365.2 782.6 1366.7 781.2 1368.1 781.2C1369.6 781.2 1371.0 786.7 1372.5 790.0C1373.8 792.9 1375.0 800.0 1376.2 800.0C1378.3 800.0 1380.4 799.3 1382.5 798.8C1384.6 798.2 1386.7 796.2 1388.8 796.2C1390.8 796.2 1392.9 796.2 1395.0 796.2C1396.7 796.2 1398.3 792.5 1400.0 792.5C1401.7 792.5 1403.3 793.8 1405.0 795.0C1406.7 796.2 1408.3 800.3 1410.0 802.5C1411.2 804.1 1412.5 806.6 1413.8 806.9C1415.4 807.3 1417.1 807.5 1418.8 807.5C1420.0 807.5 1421.2 801.2 1422.5 801.2C1424.2 801.2 1425.8 801.9 1427.5 802.5C1428.8 803.0 1430.0 805.0 1431.2 805.0C1432.5 805.0 1433.8 790.0 1435.0 790.0C1436.2 790.0 1437.5 791.8 1438.8 793.8C1440.0 795.7 1441.2 806.9 1442.5 806.9C1445.0 806.9 1447.5 806.2 1450.0 805.0C1451.7 804.2 1453.3 797.8 1455.0 793.8C1456.2 790.7 1457.5 784.5 1458.8 783.8C1460.0 783.0 1461.2 782.5 1462.5 782.5C1464.6 782.5 1466.7 783.6 1468.8 785.0C1470.0 785.8 1471.2 788.4 1472.5 791.2C1473.3 793.2 1474.2 797.6 1475.0 800.0C1476.2 803.5 1477.5 807.5 1478.8 808.8C1480.0 810.0 1481.2 811.2 1482.5 811.2C1484.2 811.2 1485.8 807.9 1487.5 805.0C1488.8 802.8 1490.0 796.3 1491.2 795.0C1492.9 793.3 1494.6 793.4 1496.2 791.9C1497.5 790.8 1498.8 786.2 1500.0 786.2C1501.2 786.2 1502.5 786.2 1503.8 786.2C1505.8 786.2 1507.9 790.7 1510.0 792.5C1511.7 793.9 1513.3 796.2 1515.0 796.2C1516.7 796.2 1518.3 792.6 1520.0 790.0C1521.2 788.1 1522.5 783.8 1523.8 782.5C1525.0 781.2 1526.2 780.0 1527.5 780.0C1529.2 780.0 1530.8 782.3 1532.5 783.8C1533.8 784.8 1535.0 787.1 1536.2 787.5C1538.3 788.2 1540.4 788.1 1542.5 788.8C1545.0 789.5 1547.5 793.1 1550.0 793.1C1551.2 793.1 1552.5 792.5 1553.8 792.5C1555.0 792.5 1556.2 794.4 1557.5 794.4C1559.2 794.4 1560.8 793.0 1562.5 791.2C1563.8 789.9 1565.0 781.1 1566.2 780.0C1567.5 778.9 1568.8 778.1 1570.0 778.1C1571.2 778.1 1572.5 782.4 1573.8 785.0C1575.0 787.6 1576.2 790.8 1577.5 793.8"/>
<path class="c" stroke="#0000ff" d="M348.0 1074.0C349.0 1073.0 350.1 1072.7 351.1 1071.0C352.2 1069.3 353.2 1058.3 354.2 1053.5C355.9 1045.8 357.6 1035.1 359.2 1034.1C360.5 1033.4 361.8 1032.9 363.0 1032.9C365.1 1032.9 367.2 1034.7 369.2 1035.4C371.3 1036.0 373.4 1037.0 375.5 1037.0C376.8 1037.0 378.0 1032.3 379.2 1028.5C381.3 1022.2 383.4 1007.7 385.5 997.2C387.2 988.9 388.8 977.6 390.5 972.2C391.8 968.3 393.0 964.2 394.2 963.2C396.3 961.7 398.4 960.8 400.5 960.8C402.2 960.8 403.8 962.4 405.5 962.9C407.3 963.4 409.2 964.1 411.0 964.1C413.3 964.1 415.7 958.8 418.0 954.6C420.1 950.9 422.2 945.5 424.2 938.6C425.5 934.5 426.8 922.5 428.0 922.5C429.5 922.5 430.9 925.3 432.4 928.5C433.8 931.7 435.3 951.6 436.8 951.6C438.0 951.6 439.2 950.6 440.5 949.8C441.8 948.9 443.0 945.0 444.2 945.0C446.3 945.0 448.4 950.4 450.5 953.5C453.0 957.2 455.5 966.0 458.0 966.0C459.2 966.0 460.5 960.7 461.8 957.2C463.0 953.8 464.2 948.6 465.5 945.0C467.2 940.2 468.8 935.6 470.5 932.2C472.2 928.9 473.8 924.9 475.5 923.8C477.6 922.4 479.7 921.2 481.8 921.2C482.0 921.2 482.2 922.2 482.5 922.5C484.2 924.2 485.8 925.6 487.5 925.6C489.6 925.6 491.7 917.3 493.8 916.2C495.0 915.6 496.2 915.7 497.5 915.0C499.6 913.9 501.7 908.6 503.8 903.8C505.4 899.8 507.1 890.0 508.8 887.5C510.2 885.3 511.7 883.1 513.1 883.1C515.0 883.1 516.9 886.2 518.8 886.2C520.8 886.2 522.9 881.9 525.0 880.0C526.7 878.4 528.3 875.6 530.0 875.6C532.5 875.6 535.0 875.6 537.5 875.6C539.2 875.6 540.8 877.4 542.5 878.8C544.4 880.3 546.2 885.6 548.1 885.6C549.4 885.6 550.6 880.3 551.9 880.0C553.3 879.6 554.8 879.8 556.2 879.4C557.9 878.9 559.6 872.5 561.2 871.2C563.3 869.6 565.4 869.2 567.5 868.1C568.8 867.5 570.0 866.2 571.2 866.2C572.9 866.2 574.6 870.6 576.2 872.5C577.9 874.4 579.6 877.5 581.2 877.5C582.5 877.5 583.8 876.2 585.0 876.2C586.7 876.2 588.3 886.9 590.0 886.9C591.2 886.9 592.5 875.3 593.8 873.8C594.8 872.4 595.8 871.2 596.9 871.2C598.1 871.2 599.4 875.6 600.6 875.6C602.1 875.6 603.5 868.9 605.0 867.5C606.2 866.3 607.5 865.0 608.8 865.0C610.0 865.0 611.2 865.6 612.5 866.2C614.2 867.2 615.8 872.4 617.5 875.0C619.4 878.0 621.2 883.1 623.1 883.1C624.4 883.1 625.6 868.6 626.9 866.2C628.5 863.2 630.2 860.6 631.9 860.6C633.3 860.6 634.8 861.4 636.2 862.5C637.1 863.1 637.9 866.9 638.8 866.9C640.0 866.9 641.2 854.1 642.5 852.5C643.5 851.1 644.6 850.0 645.6 850.0C646.7 850.0 647.7 851.7 648.8 852.5C650.2 853.6 651.7 853.7 653.1 855.6C654.2 857.0 655.2 867.6 656.2 870.0C657.5 872.9 658.8 875.2 660.0 875.6C661.2 876.0 662.5 875.9 663.8 876.2C665.0 876.6 666.2 886.5 667.5 888.8C668.3 890.2 669.2 891.9 670.0 891.9C671.5 891.9 672.9 890.4 674.4 888.8C675.8 887.1 677.3 879.7 678.8 875.0C680.0 871.0 681.2 862.9 682.5 862.5C683.8 862.1 685.0 861.9 686.2 861.9C687.5 861.9 688.8 864.4 690.0 864.4C691.7 864.4 693.3 862.4 695.0 861.9C697.1 861.3 699.2 860.6 701.2 860.6C701.7 860.6 702.1 862.5 702.5 862.5C704.2 862.5 705.8 859.4 707.5 859.4C709.2 859.4 710.8 861.5 712.5 861.9C714.2 862.2 715.8 862.2 717.5 862.5C720.0 863.0 722.5 868.8 725.0 868.8C726.7 868.8 728.3 863.6 730.0 861.9C732.1 859.7 734.2 856.9 736.2 856.9C737.9 856.9 739.6 859.6 741.2 862.5C742.5 864.7 743.8 873.9 745.0 876.2C747.3 880.6 749.6 884.4 751.9 884.4C753.8 884.4 755.6 882.7 757.5 880.0C758.8 878.2 760.0 861.7 761.2 857.5C762.5 853.3 763.8 848.8 765.0 848.8C766.2 848.8 767.5 852.6 768.8 855.0C770.4 858.2 772.1 866.2 773.8 866.2C775.0 866.2 776.2 862.1 777.5 860.0C778.8 857.9 780.0 853.8 781.2 853.8C782.9 853.8 784.6 862.2 786.2 865.0C788.1 868.2 790.0 872.5 791.9 872.5C793.3 872.5 794.8 865.5 796.2 862.5C797.5 860.0 798.8 855.6 800.0 855.6C802.1 855.6 804.2 864.4 806.2 864.4C808.3 864.4 810.4 853.8 812.5 853.8C814.2 853.8 815.8 858.2 817.5 860.0C819.6 862.2 821.7 865.6 823.8 865.6C825.8 865.6 827.9 856.2 830.0 856.2C831.7 856.2 833.3 856.8 835.0 857.5C836.7 858.2 838.3 865.9 840.0 868.8C841.7 871.6 843.3 875.6 845.0 875.6C846.2 875.6 847.5 867.7 848.8 865.0C849.8 862.7 850.8 859.4 851.9 859.4C853.8 859.4 855.6 862.0 857.5 863.8C859.6 865.6 861.7 870.6 863.8 870.6C865.4 870.6 867.1 858.6 868.8 855.0C870.0 852.3 871.2 848.8 872.5 848.8C874.2 848.8 875.8 856.2 877.5 856.2C878.8 856.2 880.0 856.2 881.2 856.2C882.9 856.2 884.6 849.0 886.2 847.5C888.3 845.6 890.4 843.8 892.5 843.8C894.2 843.8 895.8 847.2 897.5 850.0C898.8 852.1 900.0 856.4 901.2 858.8C902.9 861.8 904.6 866.2 906.2 866.2C907.9 866.2 909.6 861.2 911.2 861.2C913.3 861.2 915.4 868.1 917.5 868.1C918.8 868.1 920.0 860.0 921.2 860.0C921.7 860.0 922.1 860.0 922.5 860.0C922.9 860.0 923.3 857.7 923.8 857.5C925.8 856.6 927.9 856.9 930.0 856.2C932.1 855.6 934.2 850.0 936.2 850.0C937.1 850.0 937.9 853.6 938.8 855.0C940.0 857.2 941.2 860.6 942.5 860.6C944.2 860.6 945.8 853.8 947.5 853.8C949.2 853.8 950.8 859.3 952.5 861.2C953.8 862.7 955.0 865.0 956.2 865.0C957.9 865.0 959.6 859.4 961.2 859.4C962.5 859.4 963.8 861.1 965.0 862.5C966.7 864.3 968.3 870.6 970.0 870.6C971.7 870.6 973.3 864.5 975.0 861.2C976.7 858.0 978.3 855.3 980.0 851.2C981.2 848.2 982.5 842.8 983.8 840.0C985.0 837.2 986.2 833.1 987.5 833.1C988.8 833.1 990.0 837.4 991.2 840.0C992.5 842.6 993.8 847.0 995.0 848.8C996.0 850.2 997.1 851.9 998.1 851.9C1000.4 851.9 1002.7 850.4 1005.0 848.8C1006.7 847.5 1008.3 840.6 1010.0 840.6C1011.2 840.6 1012.5 845.9 1013.8 847.5C1015.0 849.1 1016.2 851.2 1017.5 851.2C1019.2 851.2 1020.8 847.2 1022.5 845.0C1023.8 843.4 1025.0 840.0 1026.2 840.0C1027.9 840.0 1029.6 843.8 1031.2 843.8C1032.5 843.8 1033.8 841.6 1035.0 840.0C1036.7 837.9 1038.3 831.6 1040.0 831.2C1042.1 830.8 1044.2 830.6 1046.2 830.6C1047.9 830.6 1049.6 834.4 1051.2 836.2C1052.9 838.1 1054.6 841.9 1056.2 841.9C1057.9 841.9 1059.6 834.7 1061.2 831.2C1062.7 828.2 1064.2 822.5 1065.6 822.5C1067.1 822.5 1068.5 823.9 1070.0 825.0C1071.7 826.3 1073.3 829.9 1075.0 831.2C1076.7 832.6 1078.3 834.4 1080.0 834.4C1082.1 834.4 1084.2 831.9 1086.2 831.9C1088.3 831.9 1090.4 832.5 1092.5 833.1C1094.6 833.7 1096.7 836.2 1098.8 836.2C1100.2 836.2 1101.7 836.2 1103.1 836.2C1104.2 836.2 1105.2 845.6 1106.2 845.6C1107.9 845.6 1109.6 843.1 1111.2 843.1C1113.8 843.1 1116.2 843.9 1118.8 845.0C1120.4 845.8 1122.1 853.1 1123.8 853.1C1124.6 853.1 1125.4 848.2 1126.2 843.8C1127.1 839.3 1127.9 823.0 1128.8 820.0C1129.6 817.0 1130.4 814.9 1131.2 814.4C1132.5 813.6 1133.8 813.1 1135.0 813.1C1136.2 813.1 1137.5 817.5 1138.8 817.5C1139.6 817.5 1140.4 815.0 1141.2 815.0C1141.7 815.0 1142.1 815.7 1142.5 816.2C1142.9 816.8 1143.3 817.9 1143.8 818.8C1145.2 821.7 1146.7 827.5 1148.1 827.5C1149.6 827.5 1151.0 812.1 1152.5 811.2C1154.6 810.0 1156.7 809.7 1158.8 809.4C1160.4 809.1 1162.1 808.8 1163.8 808.8C1165.8 808.8 1167.9 809.2 1170.0 810.0C1171.2 810.5 1172.5 816.2 1173.8 817.5C1175.0 818.8 1176.2 820.0 1177.5 820.0C1178.8 820.0 1180.0 812.7 1181.2 810.0C1182.9 806.4 1184.6 802.5 1186.2 801.2C1187.5 800.3 1188.8 799.4 1190.0 799.4C1192.1 799.4 1194.2 800.8 1196.2 801.9C1198.3 802.9 1200.4 805.3 1202.5 806.2C1205.0 807.4 1207.5 808.4 1210.0 808.8C1212.5 809.1 1215.0 809.0 1217.5 809.4C1219.2 809.6 1220.8 813.1 1222.5 813.1C1224.2 813.1 1225.8 806.6 1227.5 806.2C1229.2 805.9 1230.8 805.6 1232.5 805.6C1233.8 805.6 1235.0 813.0 1236.2 815.0C1237.5 817.0 1238.8 819.1 1240.0 819.4C1241.7 819.8 1243.3 820.0 1245.0 820.0C1246.2 820.0 1247.5 811.8 1248.8 808.8C1250.0 805.8 1251.2 801.2 1252.5 801.2C1253.8 801.2 1255.0 802.3 1256.2 803.8C1257.1 804.7 1257.9 812.1 1258.8 812.5C1260.8 813.4 1262.9 813.3 1265.0 813.8C1267.1 814.2 1269.2 815.0 1271.2 815.0C1272.9 815.0 1274.6 809.5 1276.2 806.2C1277.9 803.0 1279.6 798.9 1281.2 795.0C1282.9 791.1 1284.6 785.6 1286.2 782.5C1287.9 779.4 1289.6 775.0 1291.2 775.0C1292.9 775.0 1294.6 779.7 1296.2 783.8C1297.5 786.8 1298.8 794.6 1300.0 797.5C1301.2 800.4 1302.5 803.3 1303.8 803.8C1306.2 804.6 1308.8 804.2 1311.2 805.0C1312.7 805.5 1314.2 812.5 1315.6 812.5C1317.1 812.5 1318.5 805.3 1320.0 805.0C1322.5 804.6 1325.0 804.8 1327.5 804.4C1329.2 804.1 1330.8 799.4 1332.5 799.4C1334.2 799.4 1335.8 804.0 1337.5 806.2C1339.6 809.0 1341.7 814.4 1343.8 814.4C1345.4 814.4 1347.1 808.6 1348.8 807.5C1350.8 806.2 1352.9 806.3 1355.0 805.0C1356.2 804.2 1357.5 800.0 1358.8 800.0C1359.6 800.0 1360.4 802.5 1361.2 802.5C1361.7 802.5 1362.1 802.5 1362.5 802.5C1363.3 802.5 1364.2 808.1 1365.0 808.1C1366.2 808.1 1367.5 805.6 1368.8 805.6C1370.8 805.6 1372.9 810.6 1375.0 810.6C1376.2 810.6 1377.5 804.5 1378.8 802.5C1380.4 799.8 1382.1 796.2 1383.8 796.2C1385.4 796.2 1387.1 801.8 1388.8 803.8C1390.4 805.8 1392.1 806.8 1393.8 808.8C1395.4 810.7 1397.1 815.6 1398.8 815.6C1399.6 815.6 1400.4 804.9 1401.2 802.5C1402.1 800.1 1402.9 797.5 1403.8 797.5C1405.4 797.5 1407.1 806.2 1408.8 806.2C1410.4 806.2 1412.1 800.0 1413.8 800.0C1415.8 800.0 1417.9 800.0 1420.0 800.0C1421.7 800.0 1423.3 797.5 1425.0 797.5C1427.1 797.5 1429.2 798.8 1431.2 798.8C1432.9 798.8 1434.6 792.5 1436.2 792.5C1437.5 792.5 1438.8 795.3 1440.0 797.5C1440.8 799.0 1441.7 803.8 1442.5 803.8C1444.2 803.8 1445.8 793.8 1447.5 793.8C1449.2 793.8 1450.8 801.2 1452.5 801.2C1454.2 801.2 1455.8 791.2 1457.5 791.2C1458.8 791.2 1460.0 796.2 1461.2 798.8C1462.9 802.1 1464.6 808.8 1466.2 808.8C1467.9 808.8 1469.6 805.3 1471.2 802.5C1472.5 800.4 1473.8 793.8 1475.0 793.8C1476.7 793.8 1478.3 793.8 1480.0 793.8C1481.7 793.8 1483.3 798.8 1485.0 798.8C1486.7 798.8 1488.3 792.8 1490.0 790.0C1492.1 786.5 1494.2 780.3 1496.2 780.0C1498.8 779.6 1501.2 779.4 1503.8 779.4C1505.4 779.4 1507.1 785.0 1508.8 785.0C1510.8 785.0 1512.9 785.0 1515.0 785.0C1517.5 785.0 1520.0 791.2 1522.5 791.2C1524.2 791.2 1525.8 785.0 1527.5 782.5C1529.4 779.7 1531.2 775.0 1533.1 775.0C1534.6 775.0 1536.0 782.6 1537.5 783.8C1539.2 785.1 1540.8 786.2 1542.5 786.2C1544.2 786.2 1545.8 778.8 1547.5 775.0C1548.8 772.1 1550.0 766.2 1551.2 766.2C1552.5 766.2 1553.8 766.2 1555.0 766.2C1556.7 766.2 1558.3 772.0 1560.0 775.0C1562.1 778.7 1564.2 786.2 1566.2 786.2C1567.9 786.2 1569.6 781.2 1571.2 781.2C1572.5 781.2 1573.8 784.8 1575.0 786.2C1576.2 787.7 1577.5 788.8 1578.8 790.0"/>
<path class="c" stroke="#ff0000" d="M404.5 1074.0C406.1 1067.2 407.7 1063.2 409.2 1053.5C410.5 1045.8 411.8 1030.3 413.0 1016.0C414.2 1001.7 415.5 981.7 416.8 966.0C417.8 952.8 418.8 940.1 419.9 928.5C420.3 924.1 420.7 922.4 421.1 916.0C421.7 905.9 422.4 852.6 423.0 835.5C423.6 818.4 424.3 810.9 424.9 798.0C425.3 789.9 425.7 779.6 426.1 773.0C426.7 762.6 427.4 754.8 428.0 748.0C428.5 743.0 428.9 735.0 429.4 735.0C430.3 735.0 431.1 743.6 432.0 745.0C434.2 748.7 436.5 750.2 438.8 751.2C440.0 751.8 441.2 752.5 442.5 752.5C443.8 752.5 445.0 749.5 446.2 747.5C447.5 745.5 448.8 740.0 450.0 740.0C450.8 740.0 451.7 746.0 452.5 750.0C453.3 754.0 454.2 765.0 455.0 765.0C456.2 765.0 457.5 764.1 458.8 762.5C459.5 761.5 460.2 752.3 461.0 748.0C462.3 740.3 463.7 731.0 465.0 727.5C466.0 724.8 467.1 721.9 468.1 721.9C469.2 721.9 470.2 726.3 471.2 730.0C472.1 733.0 472.9 743.8 473.8 743.8C474.6 743.8 475.4 743.8 476.2 743.8C477.1 743.8 477.9 737.1 478.8 727.5C479.2 722.7 479.6 704.3 480.0 690.0C480.4 675.7 480.8 651.1 481.2 640.0C481.7 628.9 482.1 617.7 482.5 615.0C486.0 592.0 489.5 600.7 493.0 582.9C494.2 576.8 495.4 548.0 496.6 548.0C497.5 548.0 498.4 565.0 499.3 565.0C500.5 565.0 501.7 537.0 502.9 529.3C503.6 524.7 504.3 518.6 505.0 518.6C506.1 518.6 507.1 543.5 508.2 550.7C509.4 558.7 510.6 568.6 511.8 568.6C513.0 568.6 514.2 554.3 515.4 554.3C516.8 554.3 518.3 559.1 519.8 565.0C521.0 569.7 522.2 597.2 523.4 600.7C524.6 604.3 525.8 607.0 527.0 607.0C529.0 607.0 531.1 606.7 533.2 606.1C534.4 605.7 535.6 592.2 536.8 582.9C538.0 573.5 539.2 556.1 540.4 547.1C541.5 538.2 542.7 525.7 543.9 525.7C545.1 525.7 546.3 540.0 547.5 547.1C548.7 554.3 549.9 557.5 551.1 568.6C552.0 576.9 552.9 607.7 553.8 618.6C554.9 633.0 556.1 649.8 557.3 649.8C558.5 649.8 559.7 624.2 560.9 618.6C561.8 614.4 562.7 609.6 563.6 609.6C564.8 609.6 566.0 613.2 567.1 613.2C568.3 613.2 569.5 602.6 570.7 600.7C572.5 597.8 574.3 595.4 576.1 595.4C577.9 595.4 579.6 616.8 581.4 616.8C582.9 616.8 584.4 615.8 585.9 613.2C586.5 612.2 587.1 591.8 587.7 591.8C588.6 591.8 589.5 608.4 590.4 618.6C591.2 628.8 592.1 654.3 593.0 654.3C593.9 654.3 594.8 632.9 595.7 618.6C596.6 604.3 597.5 578.4 598.4 565.0C599.3 551.6 600.2 534.3 601.1 532.9C602.6 530.4 604.0 531.8 605.5 529.3C606.4 527.8 607.3 473.6 608.2 466.8C609.3 458.6 610.4 452.5 611.4 452.5C612.7 452.5 614.0 465.9 615.4 475.7C616.5 484.6 617.7 497.7 618.9 511.4C619.8 521.7 620.7 532.9 621.6 547.1C622.5 561.4 623.4 592.8 624.3 600.7C625.2 608.6 626.1 615.9 627.0 615.9C627.9 615.9 628.8 597.9 629.6 593.6C631.1 586.4 632.6 584.0 634.1 579.3C635.6 574.5 637.1 572.4 638.6 565.0C639.8 559.1 641.0 543.0 642.1 529.3C643.0 519.0 643.9 493.6 644.8 493.6C646.3 493.6 647.8 504.7 649.3 511.4C651.1 519.6 652.9 535.0 654.6 540.0C655.8 543.4 657.0 547.1 658.2 547.1C659.4 547.1 660.6 518.4 661.8 511.4C662.9 505.2 663.9 498.0 665.0 498.0C666.3 498.0 667.6 503.1 668.9 506.1C670.1 508.8 671.3 509.3 672.5 515.0C673.1 517.9 673.7 547.1 674.3 547.1C675.2 547.1 676.1 514.8 677.0 511.4C678.8 504.7 680.5 500.7 682.3 500.7C683.2 500.7 684.1 531.7 685.0 547.1C686.2 567.7 687.4 608.8 688.6 608.8C689.8 608.8 691.0 600.7 692.1 600.7C693.9 600.7 695.7 614.1 697.5 614.1C698.7 614.1 699.9 606.8 701.1 600.7C702.6 593.1 704.0 563.2 705.5 563.2C707.0 563.2 708.5 573.6 710.0 582.9C711.2 590.2 712.4 608.0 713.6 618.6C714.5 626.5 715.4 640.0 716.2 640.0C717.4 640.0 718.6 627.5 719.8 618.6C721.0 609.6 722.2 596.6 723.4 582.9C724.3 572.6 725.2 557.4 726.1 547.1C727.3 533.4 728.5 526.0 729.6 511.4C730.2 504.1 730.8 484.6 731.4 484.6C732.9 484.6 734.4 516.6 735.9 520.4C738.0 525.6 740.1 524.2 742.1 529.3C743.3 532.2 744.5 543.2 745.7 550.7C746.6 556.4 747.5 568.6 748.4 568.6C749.9 568.6 751.4 542.9 752.9 541.8C754.3 540.7 755.8 540.9 757.3 540.0C759.4 538.7 761.5 531.5 763.6 529.3C766.0 526.8 768.3 523.9 770.7 523.9C771.6 523.9 772.5 549.5 773.4 565.0C774.3 580.5 775.2 606.9 776.1 618.6C776.7 626.3 777.3 635.4 777.9 636.4C778.2 637.0 778.6 637.0 778.9 637.5C780.2 639.5 781.5 662.5 782.9 662.5C783.9 662.5 785.0 641.8 786.1 628.6C787.3 613.9 788.5 589.3 789.6 575.0C790.8 560.7 792.0 551.2 793.2 539.3C794.4 527.4 795.6 517.3 796.8 503.6C797.7 493.3 798.6 479.8 799.5 467.9C800.4 456.0 801.2 439.0 802.1 432.1C803.2 424.4 804.2 416.1 805.2 416.1C806.1 416.1 807.0 424.4 807.9 432.1C808.6 438.9 809.4 456.8 810.2 467.9C811.1 480.6 812.0 494.9 812.9 503.6C814.0 515.2 815.2 522.8 816.4 530.4C817.6 537.9 818.8 540.7 820.0 550.0C820.9 557.0 821.8 574.9 822.7 583.9C823.5 591.7 824.2 603.6 825.0 603.6C826.0 603.6 827.0 583.2 828.0 575.0C829.2 565.4 830.4 552.1 831.6 550.0C832.8 547.9 834.0 546.4 835.2 546.4C836.4 546.4 837.6 552.1 838.8 557.1C839.6 560.9 840.5 570.5 841.4 575.0C842.6 581.0 843.8 589.3 845.0 589.3C846.8 589.3 848.6 589.3 850.4 589.3C851.5 589.3 852.7 568.4 853.9 557.1C855.1 545.9 856.3 532.6 857.5 521.4C858.1 515.8 858.7 505.4 859.3 505.4C860.5 505.4 861.7 523.7 862.9 528.6C864.0 533.5 865.2 534.3 866.4 539.3C867.6 544.3 868.8 557.0 870.0 564.3C871.2 571.6 872.4 583.9 873.6 583.9C874.8 583.9 876.0 551.3 877.1 539.3C878.3 527.2 879.5 508.9 880.7 508.9C881.9 508.9 883.1 525.7 884.3 539.3C885.2 549.5 886.1 576.1 887.0 583.9C888.2 594.3 889.3 604.5 890.5 604.5C891.7 604.5 892.9 582.9 894.1 575.0C895.3 567.1 896.5 555.4 897.7 555.4C898.9 555.4 900.1 560.7 901.2 560.7C902.7 560.7 904.2 541.7 905.7 539.3C906.9 537.4 908.1 535.7 909.3 535.7C910.2 535.7 911.1 571.4 912.0 571.4C913.5 571.4 914.9 571.4 916.4 571.4C917.3 571.4 918.2 594.8 919.1 596.4C920.3 598.7 921.5 600.0 922.7 600.0C923.6 600.0 924.5 573.1 925.4 557.1C926.0 546.5 926.5 527.8 927.1 521.4C927.6 516.3 928.1 510.7 928.6 510.7C929.3 510.7 930.0 540.5 930.7 557.1C931.3 571.0 931.9 595.3 932.5 601.8C933.1 608.3 933.7 614.3 934.3 614.3C935.5 614.3 936.7 601.8 937.9 592.9C939.0 583.9 940.2 566.2 941.4 557.1C942.9 545.9 944.4 535.7 945.9 530.4C946.8 527.2 947.7 523.2 948.6 523.2C949.5 523.2 950.4 542.9 951.2 542.9C952.7 542.9 954.2 539.3 955.7 539.3C956.9 539.3 958.1 550.0 959.3 550.0C960.5 550.0 961.7 526.0 962.9 521.4C964.0 516.9 965.2 512.5 966.4 512.5C967.3 512.5 968.2 538.2 969.1 542.9C970.6 550.6 972.1 552.2 973.6 557.1C975.7 564.0 977.7 578.6 979.8 578.6C981.3 578.6 982.8 564.3 984.3 564.3C985.5 564.3 986.7 564.3 987.9 564.3C989.0 564.3 990.2 578.6 991.4 578.6C992.6 578.6 993.8 554.4 995.0 539.3C996.2 524.2 997.4 506.5 998.6 485.7C999.2 475.3 999.8 452.3 1000.4 450.0C1000.8 448.1 1001.3 446.8 1001.8 446.8C1002.5 446.8 1003.2 462.1 1003.9 467.9C1004.8 475.0 1005.7 485.7 1006.6 485.7C1007.5 485.7 1008.4 483.8 1009.3 482.1C1010.2 480.4 1011.1 473.2 1012.0 473.2C1012.9 473.2 1013.8 492.6 1014.6 503.6C1015.5 514.5 1016.4 527.4 1017.3 539.3C1018.2 551.2 1019.1 564.7 1020.0 575.0C1021.2 588.7 1022.4 601.3 1023.6 610.7C1024.5 617.8 1025.4 628.6 1026.2 628.6C1027.7 628.6 1029.2 596.0 1030.7 575.0C1031.6 562.4 1032.5 533.5 1033.4 530.4C1034.3 527.2 1035.2 525.0 1036.1 525.0C1037.3 525.0 1038.5 539.5 1039.6 550.0C1040.8 560.5 1042.0 584.2 1043.2 592.9C1044.1 599.3 1045.0 607.1 1045.9 607.1C1046.8 607.1 1047.7 589.3 1048.6 589.3C1049.5 589.3 1050.4 622.3 1051.2 628.6C1052.4 637.0 1053.6 644.6 1054.8 644.6C1056.3 644.6 1057.8 636.6 1059.3 628.6C1060.5 622.2 1061.7 607.1 1062.9 592.9C1064.0 578.6 1065.2 549.5 1066.4 539.3C1067.5 530.0 1068.6 519.6 1069.6 519.6C1070.7 519.6 1071.7 530.4 1072.7 539.3C1073.6 547.1 1074.5 568.4 1075.4 575.0C1076.5 583.8 1077.7 584.0 1078.9 592.9C1079.8 599.5 1080.7 617.6 1081.6 628.6C1082.5 639.5 1083.4 657.8 1084.3 658.9C1085.2 660.1 1086.1 660.2 1087.0 660.7C1087.9 661.3 1088.9 662.3 1089.8 662.3C1090.7 662.3 1091.6 646.4 1092.5 636.4C1093.4 626.4 1094.3 617.6 1095.2 600.7C1095.8 589.4 1096.4 553.7 1097.0 547.1C1097.9 537.4 1098.8 530.9 1099.6 530.2C1101.1 529.0 1102.6 529.7 1104.1 528.4C1104.7 527.9 1105.3 511.4 1105.9 511.4C1106.5 511.4 1107.1 532.9 1107.7 547.1C1108.3 561.4 1108.9 589.7 1109.5 600.7C1110.7 622.7 1111.8 637.2 1113.0 645.4C1114.2 653.6 1115.4 662.3 1116.6 662.3C1117.8 662.3 1119.0 653.0 1120.2 645.4C1121.4 637.7 1122.6 615.8 1123.8 609.6C1124.9 603.5 1126.1 597.1 1127.3 597.1C1129.4 597.1 1131.5 597.1 1133.6 597.1C1134.8 597.1 1136.0 588.5 1137.1 582.9C1138.6 575.8 1140.1 556.1 1141.6 556.1C1143.1 556.1 1144.6 569.0 1146.1 575.7C1147.9 583.8 1149.6 592.7 1151.4 600.7C1153.2 608.7 1155.0 623.9 1156.8 623.9C1157.7 623.9 1158.6 612.6 1159.5 600.7C1160.1 592.8 1160.7 563.4 1161.2 556.1C1162.4 541.5 1163.6 534.1 1164.8 529.3C1166.0 524.5 1167.2 519.5 1168.4 519.5C1169.9 519.5 1171.4 524.7 1172.9 529.3C1174.0 533.0 1175.2 540.0 1176.4 547.1C1177.6 554.3 1178.8 568.3 1180.0 573.9C1181.8 582.4 1183.6 587.4 1185.4 591.8C1186.8 595.5 1188.3 600.7 1189.8 600.7C1191.3 600.7 1192.8 590.7 1194.3 582.9C1195.5 576.6 1196.7 556.9 1197.9 556.1C1199.6 554.9 1201.4 554.3 1203.2 554.3C1205.0 554.3 1206.8 567.7 1208.6 567.7C1209.8 567.7 1211.0 555.8 1212.1 547.1C1213.3 538.5 1214.5 521.1 1215.7 511.4C1217.5 496.9 1219.3 483.4 1221.1 475.7C1222.6 469.3 1224.0 461.4 1225.5 461.4C1226.5 461.4 1227.6 476.3 1228.6 484.3C1230.4 498.3 1232.1 516.3 1233.9 528.9C1235.6 540.7 1237.3 559.6 1238.9 559.6C1240.2 559.6 1241.5 531.3 1242.9 520.0C1244.5 505.7 1246.2 482.9 1247.9 482.9C1249.8 482.9 1251.7 495.8 1253.6 502.1C1255.2 507.7 1256.9 518.6 1258.6 518.6C1260.4 518.6 1262.1 490.9 1263.9 477.5C1265.2 467.7 1266.5 458.3 1267.9 448.6C1269.0 439.7 1270.2 435.5 1271.4 421.8C1272.0 414.9 1272.6 391.9 1273.2 386.1C1274.4 374.4 1275.6 364.6 1276.8 364.6C1277.7 364.6 1278.6 371.4 1279.5 377.1C1281.0 386.8 1282.4 417.4 1283.9 430.7C1284.8 438.7 1285.7 449.2 1286.6 450.4C1288.4 452.8 1290.2 451.8 1292.0 453.9C1293.2 455.3 1294.3 460.7 1295.5 466.4C1296.1 469.3 1296.7 478.9 1297.3 478.9C1298.2 478.9 1299.1 455.7 1300.0 448.6C1301.2 439.1 1302.4 430.8 1303.6 427.1C1305.4 421.6 1307.1 422.0 1308.9 416.4C1310.7 410.8 1312.5 390.8 1314.3 377.1C1315.5 368.0 1316.7 348.6 1317.9 348.6C1318.8 348.6 1319.6 359.1 1320.5 368.2C1321.4 377.3 1322.3 396.5 1323.2 412.9C1323.8 423.7 1324.4 440.1 1325.0 448.6C1326.1 463.8 1327.1 482.5 1328.2 482.5C1329.2 482.5 1330.2 459.2 1331.2 448.6C1332.1 439.2 1333.0 424.0 1333.9 421.8C1336.3 415.8 1338.7 419.8 1341.1 412.9C1341.7 411.1 1342.3 375.2 1342.9 368.2C1343.8 357.7 1344.6 350.2 1345.5 348.6C1346.7 346.4 1347.9 345.0 1349.1 345.0C1350.0 345.0 1350.9 354.8 1351.8 359.3C1352.7 363.7 1353.6 370.0 1354.5 371.8C1356.0 374.8 1357.4 373.3 1358.9 377.1C1359.5 378.7 1360.1 403.2 1360.7 412.9C1361.6 427.3 1362.5 439.9 1363.4 448.6C1364.6 460.2 1365.8 469.0 1367.0 475.4C1367.7 479.5 1368.5 485.2 1369.3 485.2C1370.3 485.2 1371.3 459.7 1372.3 448.6C1373.5 435.5 1374.7 424.8 1375.9 412.9C1377.1 401.0 1378.3 393.3 1379.5 377.1C1380.4 365.0 1381.2 327.2 1382.1 323.6C1382.9 320.4 1383.7 318.2 1384.5 318.2C1385.2 318.2 1385.9 331.5 1386.6 341.4C1387.5 353.8 1388.4 380.7 1389.3 395.0C1390.2 409.3 1391.1 422.3 1392.0 430.7C1392.9 439.2 1393.8 450.4 1394.6 450.4C1395.5 450.4 1396.4 438.2 1397.3 430.7C1398.5 420.7 1399.7 398.6 1400.9 395.0C1402.7 389.6 1404.5 387.1 1406.2 386.1C1408.0 385.1 1409.8 385.3 1411.6 384.3C1412.5 383.8 1413.4 380.7 1414.3 380.7C1415.5 380.7 1416.7 421.9 1417.9 430.7C1419.0 439.5 1420.2 448.6 1421.4 448.6C1422.9 448.6 1424.4 422.2 1425.9 412.9C1426.8 407.2 1427.7 399.7 1428.6 398.6C1430.4 396.3 1432.1 397.5 1433.9 395.0C1434.8 393.7 1435.7 368.0 1436.6 359.3C1437.8 347.7 1439.0 336.6 1440.2 332.5C1441.0 329.9 1441.7 327.1 1442.5 327.1C1443.5 327.1 1444.5 340.5 1445.5 350.4C1446.4 359.1 1447.3 376.7 1448.2 386.1C1449.4 398.6 1450.6 416.4 1451.8 416.4C1453.6 416.4 1455.4 416.4 1457.1 416.4C1458.9 416.4 1460.7 418.2 1462.5 418.2C1463.7 418.2 1464.9 417.7 1466.1 416.4C1466.7 415.8 1467.3 388.9 1467.9 377.1C1468.5 365.4 1469.0 346.9 1469.6 345.0C1470.5 342.1 1471.4 340.5 1472.3 340.5C1473.5 340.5 1474.7 349.1 1475.9 359.3C1476.8 366.9 1477.7 401.0 1478.6 412.9C1479.5 424.8 1480.4 436.5 1481.2 439.6C1482.7 444.9 1484.2 445.9 1485.7 448.6C1487.5 451.8 1489.3 455.6 1491.1 457.5C1492.6 459.1 1494.0 461.1 1495.5 461.1C1497.0 461.1 1498.5 444.8 1500.0 430.7C1501.2 419.4 1502.4 391.3 1503.6 377.1C1504.5 366.5 1505.4 352.7 1506.2 350.4C1507.0 348.3 1507.8 346.8 1508.6 346.8C1509.6 346.8 1510.6 365.1 1511.6 377.1C1512.5 387.8 1513.4 415.3 1514.3 416.4C1515.2 417.6 1516.1 417.0 1517.0 418.2C1517.4 418.8 1517.8 422.6 1518.2 426.2C1518.8 431.2 1519.4 438.9 1520.0 450.0C1520.4 458.0 1520.8 475.0 1521.2 487.5C1521.7 500.0 1522.1 518.5 1522.5 525.0C1523.1 534.7 1523.8 538.7 1524.4 543.8C1524.9 548.2 1525.5 555.0 1526.0 555.0C1526.7 555.0 1527.4 548.7 1528.1 543.8C1528.8 539.4 1529.4 533.3 1530.0 525.0C1530.6 516.7 1531.2 496.2 1531.9 487.5C1532.5 478.8 1533.1 469.0 1533.8 467.5C1534.4 466.0 1535.0 465.0 1535.6 465.0C1536.2 465.0 1536.9 482.4 1537.5 487.5C1538.3 494.3 1539.2 499.1 1540.0 502.5C1541.0 506.7 1542.1 511.9 1543.1 511.9C1544.0 511.9 1544.8 506.9 1545.6 500.0C1546.0 496.6 1546.5 485.0 1546.9 475.0C1547.3 465.0 1547.7 450.0 1548.1 437.5C1548.5 425.0 1549.0 408.7 1549.4 400.0C1549.8 391.3 1550.2 385.8 1550.6 380.0C1551.2 371.3 1551.9 360.8 1552.5 357.5C1553.1 354.2 1553.8 351.2 1554.4 351.2C1554.8 351.2 1555.2 369.8 1555.6 380.0C1556.0 390.2 1556.5 403.9 1556.9 412.5C1557.5 425.4 1558.1 436.6 1558.8 443.8C1559.4 450.9 1560.0 460.0 1560.6 460.0C1561.5 460.0 1562.3 453.3 1563.1 450.0C1564.2 445.8 1565.2 443.5 1566.2 437.5C1567.1 432.7 1567.9 421.1 1568.8 412.5C1569.4 406.0 1570.0 396.8 1570.6 392.5C1571.5 386.7 1572.3 380.0 1573.1 380.0C1574.0 380.0 1574.8 386.9 1575.6 392.5C1576.2 396.7 1576.9 402.2 1577.5 411.2C1577.9 417.3 1578.3 431.2 1578.8 441.2"/>
<path class="c" stroke="#009900" d="M405.5 1074.0C407.2 1071.3 408.8 1070.3 410.5 1066.0C411.3 1063.9 412.2 1060.2 413.0 1053.5C413.8 1046.8 414.7 1016.7 415.5 1003.5C417.2 977.2 418.8 959.3 420.5 941.0C421.3 931.9 422.2 927.8 423.0 916.0C423.6 907.1 424.3 895.9 424.9 873.0C425.1 865.8 425.3 842.1 425.5 835.5C426.1 814.6 426.8 808.2 427.4 798.0C428.0 788.1 428.6 781.3 429.2 773.0C429.9 764.7 430.5 759.3 431.1 748.0C431.4 742.5 431.7 726.2 432.0 725.0C432.7 722.2 433.3 721.0 434.0 721.0C435.0 721.0 436.0 726.0 437.0 726.0C438.0 726.0 439.0 721.9 440.0 718.0C440.8 714.7 441.7 703.0 442.5 700.0C443.3 697.0 444.2 694.6 445.0 694.0C446.7 692.8 448.3 693.2 450.0 692.0C451.3 691.0 452.7 680.0 454.0 680.0C455.3 680.0 456.7 686.6 458.0 690.0C459.0 692.6 460.0 696.3 461.0 698.0C461.5 698.9 462.0 699.0 462.5 700.0C463.3 701.6 464.2 708.9 465.0 710.0C466.7 712.3 468.3 711.7 470.0 713.8C471.5 715.5 472.9 727.5 474.4 727.5C475.0 727.5 475.6 720.6 476.2 715.0C476.9 709.4 477.5 700.1 478.1 690.0C478.5 683.2 479.0 670.7 479.4 665.0C480.0 656.5 480.6 646.2 481.2 646.2C483.3 646.2 485.4 646.2 487.5 646.2C490.2 646.2 493.0 645.2 495.7 641.8C496.6 640.7 497.5 619.2 498.4 600.7C499.0 588.4 499.6 561.6 500.2 547.1C501.1 525.4 502.0 498.1 502.9 493.6C504.5 485.0 506.2 480.2 507.9 480.2C508.9 480.2 509.9 492.1 510.9 502.5C511.8 511.7 512.7 533.9 513.6 547.1C514.5 560.4 515.4 575.5 516.2 582.9C517.1 590.2 518.0 598.9 518.9 598.9C520.1 598.9 521.3 582.9 522.5 582.9C524.3 582.9 526.1 597.1 527.9 597.1C529.6 597.1 531.4 567.9 533.2 556.1C534.1 550.1 535.0 540.0 535.9 540.0C536.8 540.0 537.7 564.0 538.6 573.9C539.8 587.1 541.0 608.8 542.1 608.8C543.3 608.8 544.5 592.9 545.7 582.9C546.9 572.9 548.1 560.3 549.3 547.1C549.9 540.6 550.5 525.7 551.1 525.7C552.3 525.7 553.5 541.9 554.6 547.1C556.4 554.9 558.2 559.9 560.0 565.0C562.4 571.8 564.8 571.7 567.1 582.9C568.0 587.1 568.9 609.4 569.8 618.6C571.0 630.8 572.2 648.0 573.4 648.0C574.6 648.0 575.8 630.1 577.0 618.6C578.5 604.1 579.9 578.0 581.4 565.0C582.6 554.6 583.8 543.7 585.0 540.0C586.2 536.3 587.4 532.9 588.6 532.9C589.8 532.9 591.0 553.7 592.1 565.0C593.3 576.3 594.5 595.2 595.7 600.7C596.9 606.2 598.1 611.4 599.3 611.4C600.5 611.4 601.7 592.4 602.9 582.9C604.0 573.3 605.2 559.4 606.4 554.3C608.8 544.0 611.2 534.6 613.6 534.6C614.8 534.6 616.0 553.6 617.1 565.0C618.6 579.2 620.1 614.1 621.6 614.1C622.5 614.1 623.4 594.0 624.3 582.9C625.2 571.7 626.1 547.1 627.0 547.1C627.9 547.1 628.8 570.0 629.6 575.7C630.8 583.4 632.0 591.8 633.2 591.8C635.0 591.8 636.8 590.5 638.6 588.2C639.5 587.1 640.4 573.9 641.2 573.9C642.7 573.9 644.2 591.8 645.7 591.8C646.9 591.8 648.1 573.6 649.3 565.0C650.5 556.4 651.7 545.9 652.9 540.0C654.6 531.2 656.4 525.6 658.2 520.4C659.4 516.9 660.6 511.4 661.8 511.4C663.6 511.4 665.4 524.8 667.1 532.9C668.6 539.6 670.1 556.1 671.6 556.1C672.5 556.1 673.4 544.3 674.3 540.0C675.2 535.7 676.1 529.3 677.0 529.3C678.5 529.3 679.9 565.0 681.4 565.0C684.4 565.0 687.4 559.1 690.4 547.1C691.2 543.6 692.1 515.3 693.0 511.4C694.2 506.2 695.4 502.5 696.6 502.5C697.8 502.5 699.0 519.1 700.2 529.3C701.4 539.5 702.6 557.1 703.8 565.0C704.9 572.9 706.1 582.9 707.3 582.9C708.2 582.9 709.1 535.2 710.0 529.3C710.9 523.3 711.8 518.6 712.7 518.6C713.9 518.6 715.1 540.6 716.2 556.1C717.1 567.7 718.0 586.2 718.9 600.7C719.5 610.4 720.1 629.3 720.7 629.3C722.5 629.3 724.3 624.8 726.1 618.6C727.3 614.4 728.5 599.0 729.6 582.9C730.5 570.8 731.4 538.2 732.3 529.3C733.2 520.4 734.1 511.4 735.0 511.4C736.2 511.4 737.4 526.4 738.6 529.3C741.0 535.1 743.3 540.0 745.7 540.0C748.1 540.0 750.5 517.8 752.9 511.4C755.2 505.1 757.6 497.1 760.0 497.1C760.9 497.1 761.8 519.5 762.7 529.3C763.9 542.3 765.1 559.2 766.2 565.0C767.1 569.4 768.0 573.9 768.9 573.9C770.1 573.9 771.3 532.9 772.5 532.9C773.7 532.9 774.9 541.8 776.1 547.1C776.7 549.8 777.3 556.1 777.9 556.1C778.8 556.1 779.8 535.7 780.7 535.7C781.9 535.7 783.1 558.6 784.3 566.1C785.5 573.6 786.7 583.3 787.9 583.9C790.2 585.2 792.6 585.7 795.0 585.7C796.8 585.7 798.6 566.1 800.4 566.1C801.5 566.1 802.7 594.5 803.9 601.8C806.0 614.5 808.1 627.7 810.2 627.7C811.4 627.7 812.6 608.7 813.8 592.9C814.6 581.0 815.5 554.8 816.4 539.3C817.3 523.8 818.2 500.4 819.1 498.2C820.0 496.0 820.9 494.6 821.8 494.6C823.0 494.6 824.2 511.2 825.4 521.4C826.5 531.6 827.7 555.0 828.9 557.1C830.1 559.3 831.3 558.6 832.5 560.7C833.7 562.8 834.9 582.5 836.1 585.7C837.6 589.7 839.0 589.5 840.5 592.9C841.7 595.5 842.9 605.4 844.1 605.4C845.6 605.4 847.1 592.7 848.6 583.9C849.8 576.9 851.0 565.1 852.1 557.1C853.3 549.2 854.5 535.7 855.7 535.7C856.9 535.7 858.1 545.2 859.3 550.0C860.5 554.8 861.7 564.3 862.9 564.3C864.0 564.3 865.2 554.1 866.4 550.0C868.2 543.8 870.0 533.9 871.8 533.9C873.0 533.9 874.2 536.7 875.4 539.3C877.1 543.2 878.9 564.3 880.7 564.3C882.5 564.3 884.3 550.9 886.1 539.3C887.3 531.5 888.5 511.6 889.6 503.6C891.1 493.5 892.6 481.2 894.1 481.2C895.0 481.2 895.9 493.4 896.8 503.6C897.4 510.4 898.0 533.9 898.6 533.9C899.5 533.9 900.4 520.3 901.2 517.9C902.4 514.5 903.6 511.6 904.8 511.6C905.7 511.6 906.6 535.6 907.5 539.3C908.7 544.2 909.9 548.2 911.1 548.2C912.3 548.2 913.5 544.6 914.6 544.6C915.8 544.6 917.0 570.0 918.2 575.0C920.0 582.5 921.8 589.3 923.6 589.3C924.8 589.3 926.0 575.9 927.1 571.4C928.3 567.0 929.5 565.7 930.7 560.7C931.9 555.7 933.1 540.6 934.3 535.7C935.2 532.0 936.1 527.7 937.0 527.7C937.9 527.7 938.8 539.3 939.6 542.9C940.8 547.6 942.0 553.6 943.2 553.6C944.1 553.6 945.0 537.7 945.9 535.7C946.8 533.7 947.7 532.1 948.6 532.1C949.8 532.1 951.0 544.5 952.1 557.1C952.7 563.5 953.3 589.3 953.9 589.3C954.8 589.3 955.7 568.4 956.6 557.1C957.5 545.9 958.4 527.2 959.3 521.4C960.8 511.8 962.3 503.6 963.8 503.6C964.6 503.6 965.5 511.3 966.4 521.4C967.0 528.2 967.6 560.5 968.2 575.0C969.1 596.7 970.0 617.2 970.9 628.6C971.8 639.9 972.7 653.6 973.6 653.6C974.8 653.6 976.0 638.4 977.1 628.6C978.3 618.8 979.5 607.1 980.7 592.9C981.9 578.6 983.1 551.8 984.3 539.3C985.8 523.6 987.3 506.4 988.8 503.6C989.8 501.6 990.9 500.0 992.0 500.0C993.0 500.0 994.0 509.2 995.0 521.4C995.6 528.6 996.2 562.6 996.8 575.0C998.0 599.7 999.2 619.5 1000.4 628.6C1001.8 639.9 1003.3 650.9 1004.8 650.9C1006.0 650.9 1007.2 638.9 1008.4 628.6C1009.3 620.8 1010.2 605.8 1011.1 592.9C1012.0 579.9 1012.9 552.5 1013.8 550.0C1014.9 546.6 1016.1 547.9 1017.3 544.6C1018.2 542.2 1019.1 518.5 1020.0 512.5C1021.2 504.5 1022.4 496.4 1023.6 496.4C1024.5 496.4 1025.4 510.1 1026.2 521.4C1027.1 532.8 1028.0 557.1 1028.9 575.0C1029.8 592.9 1030.7 619.6 1031.6 628.6C1032.5 637.5 1033.4 646.4 1034.3 646.4C1035.5 646.4 1036.7 634.5 1037.9 628.6C1039.0 622.6 1040.2 617.0 1041.4 610.7C1042.9 602.9 1044.4 589.4 1045.9 585.7C1047.4 582.0 1048.9 582.6 1050.4 578.6C1051.5 575.3 1052.7 554.7 1053.9 550.0C1054.8 546.5 1055.7 542.9 1056.6 542.9C1057.5 542.9 1058.4 555.1 1059.3 557.1C1061.1 561.2 1062.9 560.0 1064.6 564.3C1065.8 567.1 1067.0 583.6 1068.2 592.9C1069.4 602.1 1070.6 614.0 1071.8 619.6C1073.6 628.1 1075.4 631.0 1077.1 637.5C1078.3 641.9 1079.5 651.8 1080.7 651.8C1081.9 651.8 1083.1 639.1 1084.3 628.6C1085.2 620.6 1086.1 603.5 1087.0 592.9C1087.3 588.6 1087.7 581.1 1088.0 581.1C1089.5 581.1 1091.0 595.7 1092.5 600.7C1094.3 606.7 1096.1 610.1 1097.9 615.0C1099.9 620.7 1102.0 632.9 1104.1 632.9C1105.3 632.9 1106.5 631.1 1107.7 631.1C1108.9 631.1 1110.1 634.6 1111.2 634.6C1112.7 634.6 1114.2 615.9 1115.7 609.6C1117.5 602.1 1119.3 600.2 1121.1 591.8C1122.3 586.1 1123.5 576.6 1124.6 565.0C1125.5 556.3 1126.4 537.7 1127.3 529.3C1128.2 520.8 1129.1 511.9 1130.0 509.6C1131.5 505.9 1133.0 503.4 1134.5 503.4C1135.7 503.4 1136.8 510.1 1138.0 520.4C1138.6 525.5 1139.2 551.8 1139.8 565.0C1140.4 578.2 1141.0 592.6 1141.6 600.7C1142.5 612.9 1143.4 622.5 1144.3 627.5C1144.9 630.8 1145.5 634.6 1146.1 634.6C1147.6 634.6 1149.0 631.3 1150.5 627.5C1152.0 623.7 1153.5 604.7 1155.0 600.7C1156.8 596.0 1158.6 596.6 1160.4 591.8C1161.5 588.6 1162.7 572.3 1163.9 570.4C1164.8 568.9 1165.7 567.7 1166.6 567.7C1168.1 567.7 1169.6 574.3 1171.1 579.3C1172.6 584.3 1174.0 592.9 1175.5 600.7C1176.7 607.0 1177.9 621.2 1179.1 621.2C1180.3 621.2 1181.5 610.5 1182.7 600.7C1183.6 593.4 1184.5 569.8 1185.4 565.0C1186.0 561.8 1186.5 558.8 1187.1 558.8C1188.3 558.8 1189.5 568.0 1190.7 573.9C1191.9 579.9 1193.1 592.8 1194.3 595.4C1195.2 597.2 1196.1 598.9 1197.0 598.9C1197.9 598.9 1198.8 590.7 1199.6 582.9C1200.2 577.6 1200.8 563.4 1201.4 556.1C1202.6 541.5 1203.8 530.6 1205.0 520.4C1206.2 510.2 1207.4 495.2 1208.6 493.6C1209.8 491.9 1211.0 491.3 1212.1 490.9C1213.6 490.4 1215.1 490.6 1216.6 490.0C1217.5 489.6 1218.4 472.1 1219.3 472.1C1220.2 472.1 1221.1 473.7 1222.0 475.7C1223.2 478.4 1224.3 511.4 1225.5 511.4C1226.5 511.4 1227.6 502.1 1228.6 502.1C1229.8 502.1 1231.0 509.3 1232.1 509.3C1233.3 509.3 1234.5 495.4 1235.7 484.3C1236.6 476.0 1237.5 457.6 1238.4 448.6C1239.6 436.5 1240.8 424.7 1242.0 420.0C1242.9 416.5 1243.8 412.9 1244.6 412.9C1247.0 412.9 1249.4 436.7 1251.8 448.6C1253.0 454.5 1254.2 458.5 1255.4 466.4C1256.5 474.4 1257.7 501.9 1258.9 502.1C1260.3 502.4 1261.7 502.5 1263.0 502.5C1264.3 502.5 1265.7 493.6 1267.0 484.3C1267.9 477.9 1268.8 461.2 1269.6 448.6C1270.2 440.1 1270.8 423.8 1271.4 421.8C1273.2 415.6 1275.0 417.3 1276.8 412.9C1278.6 408.4 1280.4 393.6 1282.1 386.1C1283.9 378.5 1285.7 369.1 1287.5 366.4C1288.7 364.6 1289.9 362.9 1291.1 362.9C1291.7 362.9 1292.3 376.7 1292.9 382.5C1294.0 394.1 1295.2 412.9 1296.4 412.9C1297.3 412.9 1298.2 410.8 1299.1 409.3C1300.2 407.4 1301.2 401.2 1302.3 401.2C1303.3 401.2 1304.3 412.9 1305.4 412.9C1306.2 412.9 1307.1 408.9 1308.0 407.5C1308.9 406.1 1309.8 404.4 1310.7 403.9C1312.5 402.9 1314.3 402.1 1316.1 402.1C1317.9 402.1 1319.6 409.3 1321.4 409.3C1322.6 409.3 1323.8 401.1 1325.0 395.0C1326.2 388.9 1327.4 376.5 1328.6 370.0C1329.8 363.5 1331.0 353.9 1332.1 353.9C1333.0 353.9 1333.9 364.7 1334.8 377.1C1335.4 385.5 1336.0 417.7 1336.6 430.7C1337.5 450.2 1338.4 465.1 1339.3 475.4C1340.5 489.0 1341.7 505.7 1342.9 505.7C1343.8 505.7 1344.6 494.8 1345.5 484.3C1346.1 477.3 1346.7 454.8 1347.3 448.6C1348.5 436.2 1349.7 425.4 1350.9 425.4C1351.8 425.4 1352.7 439.6 1353.6 439.6C1354.5 439.6 1355.4 423.1 1356.2 412.9C1357.1 402.7 1358.0 387.4 1358.9 377.1C1360.1 363.4 1361.3 347.7 1362.5 341.4C1363.4 336.7 1364.3 331.6 1365.2 331.6C1366.1 331.6 1367.0 337.7 1367.9 345.0C1368.5 349.8 1369.0 363.3 1369.6 377.1C1370.2 391.0 1370.8 436.1 1371.4 436.1C1372.6 436.1 1373.8 421.1 1375.0 412.9C1376.2 404.6 1377.4 387.2 1378.6 386.1C1379.8 385.0 1381.0 384.3 1382.1 384.3C1383.6 384.3 1385.1 418.2 1386.6 418.2C1387.5 418.2 1388.4 403.0 1389.3 395.0C1390.2 387.0 1391.1 377.2 1392.0 370.0C1393.2 360.4 1394.3 347.1 1395.5 345.0C1396.7 342.9 1397.9 341.4 1399.1 341.4C1400.0 341.4 1400.9 350.4 1401.8 359.3C1402.7 368.2 1403.6 398.6 1404.5 412.9C1405.4 427.1 1406.2 448.6 1407.1 448.6C1408.3 448.6 1409.5 421.8 1410.7 421.8C1411.9 421.8 1413.1 426.0 1414.3 430.7C1415.5 435.5 1416.7 457.6 1417.9 466.4C1418.8 473.0 1419.6 482.5 1420.5 482.5C1421.7 482.5 1422.9 456.4 1424.1 448.6C1425.3 440.8 1426.5 436.0 1427.7 430.7C1429.2 424.1 1430.7 412.9 1432.1 412.9C1433.3 412.9 1434.5 421.8 1435.7 421.8C1436.9 421.8 1438.1 384.4 1439.3 377.1C1440.5 369.9 1441.7 362.9 1442.9 362.9C1444.0 362.9 1445.2 381.9 1446.4 386.1C1448.2 392.4 1450.0 391.7 1451.8 398.6C1453.0 403.2 1454.2 416.6 1455.4 430.7C1456.2 441.3 1457.1 472.8 1458.0 475.4C1459.2 478.8 1460.4 477.7 1461.6 480.7C1462.5 483.0 1463.4 500.4 1464.3 500.4C1467.3 500.4 1470.2 477.6 1473.2 448.6C1474.4 437.0 1475.6 390.0 1476.8 377.1C1478.3 361.1 1479.8 345.0 1481.2 345.0C1482.1 345.0 1483.0 358.8 1483.9 368.2C1484.8 377.6 1485.7 396.0 1486.6 403.9C1487.5 411.9 1488.4 421.8 1489.3 421.8C1491.1 421.8 1492.9 416.8 1494.6 412.9C1496.1 409.6 1497.6 398.6 1499.1 398.6C1500.3 398.6 1501.5 409.4 1502.7 416.4C1504.2 425.2 1505.7 446.4 1507.1 448.6C1508.6 450.7 1510.1 449.7 1511.6 452.1C1512.5 453.6 1513.4 477.1 1514.3 484.3C1515.2 491.4 1516.1 500.4 1517.0 500.4C1517.4 500.4 1517.8 453.8 1518.2 453.8C1518.8 453.8 1519.4 462.5 1520.0 462.5C1520.6 462.5 1521.2 447.5 1521.9 447.5C1522.5 447.5 1523.1 465.2 1523.8 475.0C1524.4 484.8 1525.0 496.8 1525.6 506.2C1526.0 512.6 1526.5 523.8 1526.9 523.8C1527.5 523.8 1528.1 509.7 1528.8 500.0C1529.4 490.3 1530.0 473.3 1530.6 462.5C1531.2 451.7 1531.9 433.8 1532.5 433.8C1533.1 433.8 1533.8 454.9 1534.4 462.5C1535.2 472.7 1536.0 487.5 1536.9 487.5C1537.5 487.5 1538.1 470.6 1538.8 462.5C1539.6 451.7 1540.4 431.2 1541.2 431.2C1542.1 431.2 1542.9 442.9 1543.8 450.0C1544.6 457.1 1545.4 469.4 1546.2 475.0C1547.1 480.6 1547.9 485.1 1548.8 487.5C1549.6 489.9 1550.4 492.5 1551.2 492.5C1552.1 492.5 1552.9 482.8 1553.8 475.0C1554.4 469.2 1555.0 460.1 1555.6 450.0C1556.0 443.2 1556.5 433.3 1556.9 425.0C1557.3 416.7 1557.7 408.7 1558.1 400.0C1558.5 391.3 1559.0 372.5 1559.4 372.5C1560.2 372.5 1561.0 375.5 1561.9 380.0C1562.3 382.2 1562.7 392.7 1563.1 398.8C1563.8 407.8 1564.4 418.8 1565.0 425.0C1565.8 433.3 1566.7 440.0 1567.5 443.8C1568.5 448.5 1569.6 453.8 1570.6 453.8C1571.7 453.8 1572.7 442.8 1573.8 437.5C1574.6 433.3 1575.4 430.0 1576.2 425.0C1576.9 421.2 1577.5 415.8 1578.1 411.2"/>
<path class="c" stroke="#000000" d="M403.5 1074.0C404.6 1067.2 405.7 1062.7 406.8 1053.5C408.0 1042.9 409.2 1022.0 410.5 1003.5C411.8 985.0 413.0 951.2 414.2 941.0C415.8 928.1 417.4 927.7 419.0 916.0C419.9 909.2 420.8 895.1 421.8 885.5C422.6 876.7 423.4 868.8 424.2 860.5C425.3 850.0 426.3 840.7 427.4 829.0C428.2 819.7 429.1 807.3 429.9 798.0C430.9 786.5 432.0 774.6 433.0 766.8C434.0 758.9 435.1 759.5 436.1 748.0C436.4 745.0 436.6 733.3 436.9 727.5C437.5 714.1 438.1 699.1 438.8 693.8C439.2 690.1 439.6 686.2 440.0 686.2C440.8 686.2 441.7 686.2 442.5 686.2C443.3 686.2 444.2 691.2 445.0 691.2C445.8 691.2 446.7 681.2 447.5 677.5C448.3 673.8 449.2 668.1 450.0 668.1C450.8 668.1 451.7 674.5 452.5 677.5C453.8 681.9 455.0 683.2 456.2 690.0C456.7 692.3 457.1 698.9 457.5 702.5C458.3 709.8 459.2 717.9 460.0 721.2C461.2 726.3 462.5 728.1 463.8 731.2C465.0 734.4 466.2 736.3 467.5 740.0C468.5 743.1 469.6 752.5 470.6 752.5C471.7 752.5 472.7 748.8 473.8 745.0C474.6 742.0 475.4 734.4 476.2 727.5C477.1 720.6 477.9 710.8 478.8 702.5C479.6 694.2 480.4 685.8 481.2 677.5C482.1 669.2 482.9 660.8 483.8 652.5C484.6 644.2 485.4 635.8 486.2 627.5C486.9 621.2 487.5 618.8 488.1 608.8C488.5 602.0 489.0 578.5 489.4 565.0C489.7 554.2 490.0 534.6 490.4 534.6C492.2 534.6 493.9 570.4 495.7 591.8C496.6 602.5 497.5 620.9 498.4 627.5C499.6 636.3 500.8 645.4 502.0 645.4C502.9 645.4 503.8 631.5 504.6 629.3C505.8 626.3 507.0 623.9 508.2 623.9C509.1 623.9 510.0 639.9 510.9 645.4C511.8 650.9 512.7 658.8 513.6 658.8C514.8 658.8 516.0 642.4 517.1 640.0C518.6 637.0 520.1 636.7 521.6 634.6C523.4 632.2 525.2 631.8 527.0 625.7C527.6 623.7 528.2 608.2 528.8 600.7C529.6 589.5 530.5 573.0 531.4 570.4C532.3 567.8 533.2 565.9 534.1 565.9C535.6 565.9 537.1 572.1 538.6 572.1C540.4 572.1 542.1 565.8 543.9 556.1C544.8 551.2 545.7 522.6 546.6 515.0C547.8 504.8 549.0 494.5 550.2 494.5C551.4 494.5 552.6 517.0 553.8 529.3C554.9 541.6 556.1 561.0 557.3 568.6C558.8 578.1 560.3 588.2 561.8 588.2C563.6 588.2 565.4 572.1 567.1 572.1C568.6 572.1 570.1 605.2 571.6 605.2C573.1 605.2 574.6 583.4 576.1 565.0C577.0 554.0 577.9 522.8 578.8 516.8C579.9 508.8 581.1 509.7 582.3 502.5C583.0 498.2 583.8 479.3 584.5 479.3C585.5 479.3 586.6 515.7 587.7 518.6C588.9 521.8 590.1 520.5 591.2 523.9C592.1 526.5 593.0 556.6 593.9 565.0C595.7 581.8 597.5 598.9 599.3 598.9C601.1 598.9 602.9 588.2 604.6 588.2C606.4 588.2 608.2 591.8 610.0 591.8C611.2 591.8 612.4 555.3 613.6 547.1C615.1 537.0 616.5 526.6 618.0 526.6C619.2 526.6 620.4 540.8 621.6 547.1C622.8 553.5 624.0 565.0 625.2 565.0C626.4 565.0 627.6 554.3 628.8 554.3C630.5 554.3 632.3 570.4 634.1 570.4C635.6 570.4 637.1 564.1 638.6 557.9C640.4 550.4 642.1 524.5 643.9 511.4C645.4 500.5 646.9 482.9 648.4 482.9C649.6 482.9 650.8 508.7 652.0 509.6C653.5 510.8 654.9 510.3 656.4 511.4C657.6 512.4 658.8 531.0 660.0 538.2C661.8 549.1 663.6 549.7 665.4 565.0C666.2 572.7 667.1 610.0 668.0 618.6C668.9 627.2 669.8 635.5 670.7 635.5C671.9 635.5 673.1 614.8 674.3 600.7C675.5 586.6 676.7 572.6 677.9 547.1C678.6 531.9 679.3 490.1 680.0 475.7C680.7 462.5 681.3 447.1 682.0 447.1C682.7 447.1 683.4 470.4 684.1 484.6C685.0 502.4 685.9 523.5 686.8 547.1C687.4 562.9 688.0 596.1 688.6 600.7C689.2 605.4 689.8 608.8 690.4 608.8C691.5 608.8 692.7 600.0 693.9 591.8C695.1 583.6 696.3 554.8 697.5 547.1C699.0 537.6 700.5 528.4 702.0 528.4C703.2 528.4 704.3 536.7 705.5 540.0C707.0 544.1 708.5 544.1 710.0 550.7C710.9 554.7 711.8 589.1 712.7 593.6C714.2 601.1 715.7 605.6 717.1 606.1C718.9 606.6 720.7 607.0 722.5 607.0C724.0 607.0 725.5 598.9 727.0 591.8C728.5 584.7 729.9 567.7 731.4 556.1C732.9 544.5 734.4 522.1 735.9 522.1C736.8 522.1 737.7 534.7 738.6 540.0C739.5 545.3 740.4 554.3 741.2 554.3C742.4 554.3 743.6 534.6 744.8 534.6C746.3 534.6 747.8 544.4 749.3 550.7C751.1 558.3 752.9 569.2 754.6 579.3C755.8 586.0 757.0 593.8 758.2 600.7C759.1 605.9 760.0 615.9 760.9 615.9C761.8 615.9 762.7 596.7 763.6 582.9C764.2 573.6 764.8 550.0 765.4 547.1C766.5 541.4 767.7 538.2 768.9 538.2C769.8 538.2 770.7 555.5 771.6 565.0C772.5 574.5 773.4 595.4 774.3 595.4C775.5 595.4 776.7 565.6 777.9 547.1C778.7 534.2 779.5 502.7 780.4 502.7C781.4 502.7 782.4 518.4 783.4 530.4C784.3 540.9 785.2 566.0 786.1 575.0C787.3 587.0 788.5 600.0 789.6 600.0C790.8 600.0 792.0 592.2 793.2 583.9C794.4 575.7 795.6 549.2 796.8 530.4C797.7 516.2 798.6 497.9 799.5 485.7C800.5 471.1 801.6 449.1 802.7 449.1C803.7 449.1 804.7 471.5 805.7 485.7C806.6 498.3 807.5 525.4 808.4 530.4C809.3 535.3 810.2 539.3 811.1 539.3C812.6 539.3 814.0 533.9 815.5 533.9C816.4 533.9 817.3 548.9 818.2 557.1C819.1 565.4 820.0 578.3 820.9 583.9C822.1 591.5 823.3 600.0 824.5 600.0C825.4 600.0 826.2 561.1 827.1 557.1C828.3 551.8 829.5 548.2 830.7 548.2C832.2 548.2 833.7 555.4 835.2 555.4C836.4 555.4 837.6 537.5 838.8 530.4C839.9 523.2 841.1 511.6 842.3 511.6C843.5 511.6 844.7 526.9 845.9 530.4C847.4 534.7 848.9 539.3 850.4 539.3C851.5 539.3 852.7 531.6 853.9 521.4C854.5 516.3 855.1 489.6 855.7 485.7C856.6 479.9 857.5 475.9 858.4 475.9C859.6 475.9 860.8 492.9 862.0 492.9C862.9 492.9 863.8 476.5 864.6 467.9C865.2 462.1 865.8 450.0 866.4 450.0C867.3 450.0 868.2 476.3 869.1 485.7C870.0 495.1 870.9 508.9 871.8 508.9C872.7 508.9 873.6 494.6 874.5 494.6C875.2 494.6 875.9 495.0 876.6 495.5C877.4 496.1 878.2 508.6 878.9 521.4C879.5 531.3 880.1 563.4 880.7 575.0C881.4 588.9 882.1 605.4 882.9 605.4C883.6 605.4 884.4 565.3 885.2 564.3C886.1 563.1 887.0 562.5 887.9 562.5C889.0 562.5 890.2 573.9 891.4 578.6C892.6 583.3 893.8 591.1 895.0 591.1C895.9 591.1 896.8 566.8 897.7 566.1C899.2 564.8 900.7 564.3 902.1 564.3C902.7 564.3 903.3 575.0 903.9 575.0C904.5 575.0 905.1 553.6 905.7 546.4C906.6 535.7 907.5 522.7 908.4 521.4C909.6 519.7 910.8 518.8 912.0 518.8C912.9 518.8 913.8 530.8 914.6 539.3C915.2 544.9 915.8 556.9 916.4 560.7C917.6 568.3 918.8 569.7 920.0 575.0C921.2 580.3 922.4 585.8 923.6 592.9C924.2 596.4 924.8 605.4 925.4 605.4C926.8 605.4 928.3 602.5 929.8 598.2C930.4 596.5 931.0 590.6 931.6 585.7C932.2 580.8 932.8 570.1 933.4 567.9C935.2 561.2 937.0 563.0 938.8 557.1C939.9 553.2 941.1 544.0 942.3 530.4C942.9 523.5 943.5 496.9 944.1 494.6C945.0 491.2 945.9 489.3 946.8 489.3C948.3 489.3 949.8 494.6 951.2 494.6C951.8 494.6 952.4 478.6 953.0 476.8C953.9 474.1 954.8 472.3 955.7 472.3C956.6 472.3 957.5 483.8 958.4 494.6C959.0 501.8 959.6 523.5 960.2 530.4C961.4 544.0 962.6 549.8 963.8 557.1C964.6 562.7 965.5 571.4 966.4 571.4C967.3 571.4 968.2 524.5 969.1 521.4C969.7 519.4 970.3 517.9 970.9 517.9C971.8 517.9 972.7 535.3 973.6 539.3C974.8 544.6 976.0 547.1 977.1 550.0C978.9 554.3 980.7 555.5 982.5 560.7C984.0 565.1 985.5 576.0 987.0 583.9C988.2 590.3 989.3 603.6 990.5 603.6C991.4 603.6 992.3 580.8 993.2 575.0C994.4 567.3 995.6 561.2 996.8 558.9C998.3 556.0 999.8 557.4 1001.2 553.6C1001.8 552.0 1002.4 529.8 1003.0 521.4C1003.9 508.8 1004.8 491.1 1005.7 491.1C1006.6 491.1 1007.5 501.3 1008.4 512.5C1009.0 520.0 1009.6 555.1 1010.2 557.1C1011.7 562.3 1013.2 561.1 1014.6 564.3C1015.8 566.8 1017.0 568.7 1018.2 575.0C1019.1 579.7 1020.0 606.4 1020.9 619.6C1021.8 632.9 1022.7 646.7 1023.6 655.4C1024.8 666.9 1026.0 675.6 1027.1 682.1C1028.0 687.0 1028.9 693.9 1029.8 693.9C1030.7 693.9 1031.6 671.7 1032.5 664.3C1033.7 654.4 1034.9 646.5 1036.1 641.1C1037.3 635.7 1038.5 636.8 1039.6 628.6C1040.2 624.5 1040.8 578.0 1041.4 575.0C1042.6 568.9 1043.8 566.1 1045.0 566.1C1045.9 566.1 1046.8 575.0 1047.7 575.0C1048.3 575.0 1048.9 546.1 1049.5 539.3C1050.1 532.5 1050.7 525.0 1051.2 525.0C1052.1 525.0 1053.0 532.0 1053.9 539.3C1054.5 544.1 1055.1 566.1 1055.7 566.1C1057.2 566.1 1058.7 565.6 1060.2 564.3C1060.8 563.7 1061.4 528.6 1062.0 521.4C1062.6 514.3 1063.2 507.1 1063.8 507.1C1064.6 507.1 1065.5 521.3 1066.4 530.4C1067.6 542.4 1068.8 556.5 1070.0 575.0C1070.9 588.9 1071.8 620.3 1072.7 628.6C1073.6 636.8 1074.5 643.3 1075.4 644.6C1076.8 646.9 1078.3 648.2 1079.8 648.2C1080.7 648.2 1081.6 625.4 1082.5 610.7C1083.4 596.0 1084.3 575.0 1085.2 557.1C1085.8 545.2 1086.4 521.4 1087.0 521.4C1087.3 521.4 1087.7 540.0 1088.0 540.0C1088.9 540.0 1089.8 490.0 1090.7 475.7C1091.6 461.4 1092.5 443.6 1093.4 443.6C1094.3 443.6 1095.2 469.0 1096.1 472.1C1097.3 476.3 1098.5 475.1 1099.6 479.3C1100.5 482.5 1101.4 504.8 1102.3 511.4C1103.2 518.0 1104.1 525.7 1105.0 525.7C1106.2 525.7 1107.4 509.6 1108.6 509.6C1109.2 509.6 1109.8 515.3 1110.4 520.4C1111.0 525.5 1111.5 538.7 1112.1 547.1C1113.0 559.8 1113.9 581.4 1114.8 582.9C1116.3 585.3 1117.8 586.4 1119.3 586.4C1120.8 586.4 1122.3 572.0 1123.8 568.6C1124.6 566.5 1125.5 564.1 1126.4 564.1C1127.3 564.1 1128.2 571.7 1129.1 575.7C1130.0 579.7 1130.9 588.2 1131.8 588.2C1132.7 588.2 1133.6 574.0 1134.5 565.0C1135.4 556.0 1136.2 535.5 1137.1 532.9C1138.6 528.4 1140.1 525.7 1141.6 525.7C1142.8 525.7 1144.0 530.7 1145.2 536.4C1146.1 540.7 1147.0 554.4 1147.9 565.0C1148.8 575.6 1149.6 588.8 1150.5 600.7C1151.4 612.6 1152.3 626.2 1153.2 636.4C1154.1 646.6 1155.0 657.0 1155.9 663.2C1156.8 669.4 1157.7 677.5 1158.6 677.5C1160.1 677.5 1161.5 674.8 1163.0 673.9C1164.2 673.2 1165.4 673.4 1166.6 672.1C1167.2 671.5 1167.8 652.3 1168.4 636.4C1169.0 620.6 1169.6 581.2 1170.2 565.0C1171.1 540.6 1172.0 520.4 1172.9 511.4C1173.8 502.5 1174.6 493.6 1175.5 493.6C1176.7 493.6 1177.9 506.2 1179.1 515.0C1180.0 521.6 1180.9 538.9 1181.8 540.0C1182.7 541.1 1183.6 541.8 1184.5 541.8C1185.1 541.8 1185.7 517.3 1186.2 511.4C1186.8 505.5 1187.4 498.9 1188.0 498.9C1188.9 498.9 1189.8 518.3 1190.7 529.3C1191.6 540.2 1192.5 555.2 1193.4 565.0C1194.3 574.8 1195.2 589.3 1196.1 590.0C1197.6 591.2 1199.0 590.7 1200.5 591.8C1201.8 592.7 1203.2 603.4 1204.5 603.4C1205.8 603.4 1207.2 600.7 1208.6 597.1C1209.5 594.8 1210.4 584.6 1211.2 579.3C1212.1 574.0 1213.0 566.9 1213.9 565.0C1214.8 563.1 1215.7 563.8 1216.6 561.4C1217.2 559.9 1217.8 538.5 1218.4 529.3C1219.3 515.5 1220.2 504.5 1221.1 493.6C1222.0 482.6 1222.9 463.2 1223.8 463.2C1224.6 463.2 1225.5 470.3 1226.4 475.7C1227.4 481.8 1228.5 492.7 1229.5 502.1C1231.1 517.6 1232.8 552.5 1234.5 552.5C1236.5 552.5 1238.6 523.2 1240.7 502.5C1241.9 490.6 1243.1 468.5 1244.3 457.9C1245.6 446.1 1246.9 430.7 1248.2 430.7C1249.4 430.7 1250.6 442.5 1251.8 445.0C1253.6 448.7 1255.4 448.1 1257.1 452.1C1258.0 454.2 1258.9 459.6 1259.8 466.4C1260.7 473.2 1261.6 496.4 1262.5 502.1C1263.9 510.9 1265.2 518.6 1266.6 518.6C1267.6 518.6 1268.6 511.7 1269.6 509.3C1270.8 506.4 1272.0 506.2 1273.2 502.1C1274.4 498.1 1275.6 472.3 1276.8 462.9C1278.6 448.7 1280.4 448.2 1282.1 430.7C1283.0 421.9 1283.9 391.0 1284.8 377.1C1286.0 358.6 1287.2 343.2 1288.4 332.5C1289.6 321.8 1290.8 307.5 1292.0 307.5C1292.9 307.5 1293.8 326.1 1294.6 341.4C1295.5 356.8 1296.4 397.0 1297.3 412.9C1298.2 428.7 1299.1 443.1 1300.0 448.6C1301.8 459.5 1303.6 468.2 1305.4 468.2C1306.5 468.2 1307.7 463.0 1308.9 457.5C1310.1 452.0 1311.3 431.2 1312.5 421.8C1313.4 414.7 1314.3 403.9 1315.2 403.9C1316.4 403.9 1317.6 422.3 1318.8 430.7C1319.6 437.0 1320.5 448.6 1321.4 448.6C1322.6 448.6 1323.8 422.7 1325.0 412.9C1326.2 403.1 1327.4 388.3 1328.6 387.9C1330.1 387.3 1331.5 387.0 1333.0 387.0C1334.2 387.0 1335.4 401.9 1336.6 412.9C1337.8 423.8 1339.0 446.3 1340.2 457.5C1341.4 468.7 1342.6 479.7 1343.8 484.3C1344.6 487.7 1345.5 491.4 1346.4 491.4C1348.2 491.4 1350.0 488.7 1351.8 484.3C1353.0 481.3 1354.2 460.5 1355.4 448.6C1356.5 436.7 1357.7 424.8 1358.9 412.9C1359.8 403.9 1360.7 386.1 1361.6 386.1C1362.2 386.1 1362.8 398.6 1363.4 398.6C1364.6 398.6 1365.8 381.3 1367.0 377.1C1368.5 372.0 1369.9 366.4 1371.4 366.4C1373.8 366.4 1376.2 366.7 1378.6 367.3C1379.8 367.6 1381.0 377.1 1382.1 377.1C1382.7 377.1 1383.3 353.5 1383.9 350.4C1384.9 345.1 1386.0 341.4 1387.0 341.4C1387.7 341.4 1388.5 364.2 1389.3 368.2C1390.2 372.9 1391.1 377.1 1392.0 377.1C1393.5 377.1 1394.9 370.0 1396.4 370.0C1397.3 370.0 1398.2 381.8 1399.1 395.0C1399.7 403.8 1400.3 437.8 1400.9 448.6C1401.5 459.4 1402.1 469.3 1402.7 471.8C1403.6 475.5 1404.5 478.0 1405.4 478.0C1406.8 478.0 1408.3 472.3 1409.8 466.4C1411.3 460.6 1412.8 445.4 1414.3 430.7C1415.5 419.0 1416.7 393.7 1417.9 386.1C1419.3 376.5 1420.8 367.3 1422.3 367.3C1423.5 367.3 1424.7 373.7 1425.9 380.7C1426.8 385.9 1427.7 405.2 1428.6 412.9C1429.8 423.0 1431.0 436.1 1432.1 436.1C1433.0 436.1 1433.9 413.7 1434.8 412.9C1436.0 411.7 1437.2 412.1 1438.4 411.1C1439.9 409.8 1441.4 395.0 1442.9 395.0C1444.3 395.0 1445.8 421.1 1447.3 430.7C1448.5 438.4 1449.7 450.4 1450.9 450.4C1451.8 450.4 1452.7 423.4 1453.6 412.9C1454.8 398.9 1456.0 392.2 1457.1 377.1C1458.0 365.8 1458.9 342.4 1459.8 332.5C1460.6 323.9 1461.4 312.9 1462.1 312.9C1462.9 312.9 1463.6 328.1 1464.3 341.4C1464.9 352.5 1465.5 389.0 1466.1 395.0C1467.3 407.0 1468.5 412.0 1469.6 414.6C1471.4 418.6 1473.2 421.8 1475.0 421.8C1477.4 421.8 1479.8 419.8 1482.1 418.2C1483.6 417.2 1485.1 413.8 1486.6 413.8C1487.5 413.8 1488.4 424.0 1489.3 430.7C1490.2 437.5 1491.1 455.7 1492.0 455.7C1492.9 455.7 1493.8 436.8 1494.6 430.7C1495.5 424.7 1496.4 416.4 1497.3 416.4C1498.2 416.4 1499.1 438.8 1500.0 448.6C1501.2 461.6 1502.4 484.3 1503.6 484.3C1504.5 484.3 1505.4 448.0 1506.2 430.7C1507.1 413.5 1508.0 380.7 1508.9 380.7C1510.1 380.7 1511.3 395.0 1512.5 395.0C1513.7 395.0 1514.9 354.8 1516.1 341.4C1516.8 333.3 1517.5 329.1 1518.2 321.2C1518.8 314.9 1519.4 303.0 1520.0 298.8C1520.6 294.2 1521.2 289.4 1521.9 289.4C1522.6 289.4 1523.3 298.2 1524.0 305.0C1524.8 312.2 1525.5 323.1 1526.2 336.2C1526.9 347.2 1527.5 364.9 1528.1 380.0C1528.5 390.1 1529.0 400.8 1529.4 411.2C1529.8 421.7 1530.2 435.0 1530.6 442.5C1531.2 452.3 1531.7 465.0 1532.2 465.0C1533.0 465.0 1533.7 456.6 1534.4 450.0C1535.0 444.2 1535.6 431.3 1536.2 425.0C1537.1 416.6 1537.9 407.3 1538.8 405.0C1539.8 402.2 1540.8 400.0 1541.9 400.0C1542.5 400.0 1543.1 412.1 1543.8 417.5C1544.6 424.7 1545.4 432.7 1546.2 437.5C1547.5 444.7 1548.8 450.4 1550.0 453.8C1551.0 456.6 1552.1 460.0 1553.1 460.0C1554.0 460.0 1554.8 443.8 1555.6 437.5C1556.2 432.7 1556.9 425.0 1557.5 425.0C1558.8 425.0 1560.0 434.8 1561.2 440.0C1562.5 445.2 1563.8 449.7 1565.0 456.2C1566.2 462.8 1567.5 471.2 1568.8 481.2C1570.0 491.3 1571.2 519.4 1572.5 519.4C1573.5 519.4 1574.6 506.1 1575.6 500.0C1576.5 495.2 1577.3 490.8 1578.1 486.2"/>
<path class="c" stroke="#002cd2" d="M401.0 1074.0C401.7 1063.0 402.3 1053.1 403.0 1041.0C403.4 1033.4 403.8 1026.0 404.2 1016.0C404.7 1006.0 405.1 991.0 405.5 978.5C405.9 966.0 406.3 946.1 406.8 941.0C408.0 925.7 409.2 921.9 410.5 916.0C412.2 908.1 413.8 907.3 415.5 898.0C416.3 893.3 417.2 880.9 418.0 873.0C418.8 865.1 419.7 853.2 420.5 850.5C421.3 847.8 422.2 845.5 423.0 845.5C424.0 845.5 425.1 855.2 426.1 860.5C427.4 867.0 428.6 881.0 429.9 881.0C430.7 881.0 431.6 872.1 432.4 860.5C432.8 854.9 433.2 832.6 433.6 823.0C434.0 812.6 434.5 806.7 434.9 798.0C435.3 790.0 435.7 778.0 436.1 773.0C436.7 765.1 437.4 758.3 438.0 756.8C439.2 753.6 440.5 753.9 441.8 751.8C443.2 749.1 444.8 746.6 446.2 740.0C447.1 736.3 447.9 720.7 448.8 715.0C450.0 706.5 451.2 703.9 452.5 696.2C453.3 691.2 454.2 681.2 455.0 677.5C455.6 674.7 456.3 671.2 456.9 671.2C457.9 671.2 459.0 680.4 460.0 685.0C460.8 688.7 461.7 696.2 462.5 696.2C463.1 696.2 463.8 683.1 464.4 677.5C465.0 671.9 465.6 665.9 466.2 662.5C467.1 658.0 467.9 656.2 468.8 652.5C469.8 647.8 470.8 636.2 471.9 636.2C472.9 636.2 474.0 646.3 475.0 650.0C476.2 654.5 477.5 661.2 478.8 661.2C479.6 661.2 480.4 646.6 481.2 640.0C482.1 633.4 482.9 627.5 483.8 621.2C484.6 615.0 485.4 609.7 486.2 602.5C486.9 597.1 487.5 592.0 488.1 583.8C488.7 576.6 489.2 560.9 489.8 552.5C490.2 544.7 490.8 532.9 491.2 532.9C492.1 532.9 493.0 547.3 493.9 556.1C494.8 564.8 495.7 586.4 496.6 586.4C498.1 586.4 499.6 581.1 501.1 581.1C502.0 581.1 502.9 594.1 503.8 600.7C504.9 609.5 506.1 627.5 507.3 627.5C508.5 627.5 509.7 612.3 510.9 600.7C511.8 592.0 512.7 572.9 513.6 565.0C514.5 557.1 515.4 548.3 516.2 547.1C518.0 544.8 519.8 543.6 521.6 543.6C522.5 543.6 523.4 558.0 524.3 565.0C525.8 576.6 527.3 598.9 528.8 598.9C530.2 598.9 531.7 583.7 533.2 579.3C534.1 576.6 535.0 573.0 535.9 573.0C537.1 573.0 538.3 582.2 539.5 588.2C540.1 591.2 540.7 598.9 541.2 598.9C542.1 598.9 543.0 573.3 543.9 565.0C544.8 556.7 545.7 545.4 546.6 545.4C547.8 545.4 549.0 562.6 550.2 568.6C552.0 577.6 553.8 590.0 555.5 590.0C557.3 590.0 559.1 576.4 560.9 568.6C562.4 562.1 563.9 549.1 565.4 547.1C567.4 544.4 569.5 542.7 571.6 542.7C573.1 542.7 574.6 563.2 576.1 563.2C577.9 563.2 579.6 539.6 581.4 538.2C584.4 535.9 587.4 534.6 590.4 534.6C591.2 534.6 592.1 545.4 593.0 556.1C593.9 566.7 594.8 602.5 595.7 618.6C596.6 634.7 597.5 657.9 598.4 657.9C599.6 657.9 600.8 632.2 602.0 618.6C603.2 604.9 604.3 582.6 605.5 575.7C607.3 565.3 609.1 556.1 610.9 556.1C612.1 556.1 613.3 575.2 614.5 582.9C616.0 592.5 617.4 607.9 618.9 607.9C620.1 607.9 621.3 581.7 622.5 568.6C623.7 555.5 624.9 538.7 626.1 529.3C627.0 522.2 627.9 512.3 628.8 512.3C629.6 512.3 630.5 531.9 631.4 540.0C632.3 548.1 633.2 561.4 634.1 561.4C635.3 561.4 636.5 540.4 637.7 532.9C638.6 527.2 639.5 518.6 640.4 518.6C641.5 518.6 642.7 533.8 643.9 540.0C644.8 544.7 645.7 552.5 646.6 552.5C647.5 552.5 648.4 533.6 649.3 525.7C649.9 520.5 650.5 511.4 651.1 511.4C652.3 511.4 653.5 531.1 654.6 540.0C655.8 548.9 657.0 556.4 658.2 565.0C659.4 573.6 660.6 586.0 661.8 591.8C663.6 600.5 665.4 610.5 667.1 610.5C668.6 610.5 670.1 588.2 671.6 579.3C673.1 570.4 674.6 556.1 676.1 556.1C677.3 556.1 678.5 569.5 679.6 575.7C680.5 580.4 681.4 589.1 682.3 589.1C683.5 589.1 684.7 560.0 685.9 547.1C686.8 537.5 687.7 520.4 688.6 520.4C689.8 520.4 691.0 540.0 692.1 540.0C693.6 540.0 695.1 540.0 696.6 540.0C697.5 540.0 698.4 567.0 699.3 575.7C700.5 587.3 701.7 602.5 702.9 602.5C704.3 602.5 705.8 572.1 707.3 572.1C708.8 572.1 710.3 577.5 711.8 577.5C713.3 577.5 714.8 556.1 716.2 556.1C718.0 556.1 719.8 563.2 721.6 563.2C722.8 563.2 724.0 542.6 725.2 529.3C726.1 519.3 727.0 501.9 727.9 493.6C729.0 482.5 730.2 468.6 731.4 468.6C732.6 468.6 733.8 485.2 735.0 493.6C735.6 497.7 736.2 506.1 736.8 506.1C738.3 506.1 739.8 499.8 741.2 499.8C743.0 499.8 744.8 522.1 746.6 522.1C747.8 522.1 749.0 508.5 750.2 502.5C751.1 498.0 752.0 490.0 752.9 490.0C754.3 490.0 755.8 494.6 757.3 500.7C758.2 504.4 759.1 520.1 760.0 529.3C761.2 541.6 762.4 553.1 763.6 565.0C764.8 576.9 766.0 591.5 767.1 600.7C768.6 612.2 770.1 628.4 771.6 628.4C772.8 628.4 774.0 603.9 775.2 602.5C776.1 601.5 777.0 601.7 777.9 600.7C778.0 600.6 778.1 600.1 778.2 600.0C779.3 598.9 780.5 599.3 781.6 598.2C782.8 597.0 784.0 576.6 785.2 566.1C786.1 558.2 787.0 548.2 787.9 542.9C789.0 535.7 790.2 526.8 791.4 526.8C792.6 526.8 793.8 539.1 795.0 548.2C796.2 557.3 797.4 583.5 798.6 585.7C799.8 587.9 801.0 587.4 802.1 589.3C803.3 591.1 804.5 597.7 805.7 601.8C806.6 604.8 807.5 610.7 808.4 610.7C809.3 610.7 810.2 593.5 811.1 575.0C811.7 562.7 812.3 515.1 812.9 503.6C813.9 482.8 815.0 465.2 816.1 465.2C817.1 465.2 818.1 477.9 819.1 482.1C820.0 485.9 820.9 491.1 821.8 491.1C822.4 491.1 823.0 469.3 823.6 464.3C824.5 456.7 825.4 449.1 826.2 449.1C827.1 449.1 828.0 455.3 828.9 464.3C829.5 470.3 830.1 500.3 830.7 521.4C831.3 542.6 831.9 582.6 832.5 592.9C833.0 601.0 833.5 608.9 833.9 608.9C834.9 608.9 836.0 585.7 837.0 575.0C838.2 562.4 839.3 547.2 840.5 539.3C841.7 531.3 842.9 523.4 844.1 521.4C845.0 520.0 845.9 518.8 846.8 518.8C847.7 518.8 848.6 532.9 849.5 539.3C850.4 545.7 851.2 557.1 852.1 557.1C853.6 557.1 855.1 539.3 856.6 539.3C857.5 539.3 858.4 567.7 859.3 575.0C860.8 587.2 862.3 600.0 863.8 600.0C864.6 600.0 865.5 570.1 866.4 557.1C867.3 544.2 868.2 527.4 869.1 521.4C870.1 514.6 871.1 508.0 872.1 508.0C873.2 508.0 874.3 526.0 875.4 539.3C876.2 550.3 877.1 576.7 878.0 583.9C878.9 591.1 879.8 598.2 880.7 598.2C881.3 598.2 881.9 574.5 882.5 557.1C883.1 539.8 883.7 492.3 884.3 485.7C885.6 471.3 886.9 463.4 888.2 463.4C889.3 463.4 890.4 486.3 891.4 494.6C892.6 504.0 893.8 513.0 895.0 517.9C896.2 522.7 897.4 528.6 898.6 528.6C899.5 528.6 900.4 505.3 901.2 494.6C902.1 484.0 903.0 468.1 903.9 464.3C904.8 460.4 905.7 457.1 906.6 457.1C907.8 457.1 909.0 468.4 910.2 476.8C911.1 483.0 912.0 501.8 912.9 501.8C914.0 501.8 915.2 492.9 916.4 492.9C917.6 492.9 918.8 508.3 920.0 521.4C920.9 531.2 921.8 557.0 922.7 566.1C923.6 575.2 924.5 583.7 925.4 585.7C926.2 587.7 927.1 589.3 928.0 589.3C928.9 589.3 929.8 576.8 930.7 576.8C931.6 576.8 932.5 583.1 933.4 587.5C934.6 593.3 935.8 599.3 937.0 610.7C937.9 619.2 938.8 651.9 939.6 655.4C941.1 661.0 942.6 659.8 944.1 664.3C945.0 667.0 945.9 675.4 946.8 678.6C947.7 681.7 948.6 685.7 949.5 685.7C950.4 685.7 951.2 676.7 952.1 664.3C952.7 656.0 953.3 606.5 953.9 592.9C954.5 579.3 955.1 566.4 955.7 564.3C956.3 562.2 956.9 560.7 957.5 560.7C958.7 560.7 959.9 564.2 961.1 567.9C962.3 571.6 963.5 585.4 964.6 592.9C966.1 602.2 967.6 617.9 969.1 617.9C970.0 617.9 970.9 586.4 971.8 575.0C972.7 563.6 973.6 549.3 974.5 546.4C975.1 544.5 975.7 542.9 976.2 542.9C977.1 542.9 978.0 554.2 978.9 560.7C979.5 565.1 980.1 575.0 980.7 575.0C981.9 575.0 983.1 568.2 984.3 557.1C984.9 551.6 985.5 516.6 986.1 503.6C987.0 484.1 987.9 468.8 988.8 458.9C989.6 449.0 990.5 436.6 991.4 436.6C992.1 436.6 992.9 461.9 993.6 467.9C994.6 476.7 995.7 480.1 996.8 485.7C998.0 492.0 999.2 499.1 1000.4 503.6C1001.5 508.0 1002.7 511.4 1003.9 514.3C1005.1 517.1 1006.3 516.9 1007.5 521.4C1008.4 524.8 1009.3 560.7 1010.2 575.0C1011.1 589.3 1012.0 609.3 1012.9 610.7C1014.3 613.1 1015.8 611.8 1017.3 614.3C1018.2 615.8 1019.1 655.5 1020.0 664.3C1020.9 673.1 1021.8 682.1 1022.7 682.1C1023.6 682.1 1024.5 673.8 1025.4 664.3C1026.2 654.8 1027.1 611.2 1028.0 592.9C1028.9 574.5 1029.8 561.1 1030.7 548.2C1031.9 531.1 1033.1 511.6 1034.3 503.6C1035.3 496.7 1036.3 489.3 1037.3 489.3C1038.4 489.3 1039.5 504.0 1040.5 512.5C1041.4 519.6 1042.3 534.5 1043.2 535.7C1045.0 538.2 1046.8 537.3 1048.6 539.3C1049.8 540.6 1051.0 543.3 1052.1 548.2C1053.3 553.2 1054.5 584.4 1055.7 592.9C1056.9 601.4 1058.1 606.0 1059.3 610.7C1061.0 617.3 1062.6 626.8 1064.3 626.8C1065.3 626.8 1066.3 605.8 1067.3 592.9C1068.5 577.7 1069.7 551.2 1070.9 539.3C1072.1 527.4 1073.3 515.8 1074.5 512.5C1075.5 509.7 1076.5 507.1 1077.5 507.1C1078.6 507.1 1079.6 515.7 1080.7 525.0C1081.6 532.8 1082.5 559.3 1083.4 575.0C1084.3 590.7 1085.2 612.5 1086.1 619.6C1087.0 627.3 1088.0 634.6 1088.9 634.6C1090.1 634.6 1091.3 610.8 1092.5 600.7C1094.0 588.1 1095.5 566.8 1097.0 566.8C1097.9 566.8 1098.8 583.4 1099.6 591.8C1100.8 603.0 1102.0 625.7 1103.2 625.7C1104.4 625.7 1105.6 617.0 1106.8 609.6C1108.0 602.3 1109.2 581.4 1110.4 573.9C1111.2 568.3 1112.1 561.4 1113.0 561.4C1113.9 561.4 1114.8 575.0 1115.7 582.9C1116.9 593.4 1118.1 608.4 1119.3 618.6C1120.5 628.8 1121.7 645.4 1122.9 645.4C1124.0 645.4 1125.2 626.5 1126.4 618.6C1127.9 608.6 1129.4 600.7 1130.9 591.8C1131.8 586.4 1132.7 578.0 1133.6 575.7C1134.5 573.4 1135.4 571.2 1136.2 571.2C1137.1 571.2 1138.0 586.5 1138.9 591.8C1140.1 598.8 1141.3 608.8 1142.5 608.8C1143.4 608.8 1144.3 593.6 1145.2 582.9C1146.1 572.1 1147.0 545.9 1147.9 540.0C1148.6 534.9 1149.4 530.2 1150.2 530.2C1150.9 530.2 1151.6 540.4 1152.3 547.1C1153.2 555.6 1154.1 573.9 1155.0 579.3C1155.9 584.6 1156.8 590.0 1157.7 590.0C1158.6 590.0 1159.5 573.9 1160.4 573.9C1161.2 573.9 1162.1 592.1 1163.0 600.7C1164.5 615.0 1166.0 641.8 1167.5 641.8C1168.4 641.8 1169.3 616.2 1170.2 600.7C1171.1 585.2 1172.0 561.0 1172.9 547.1C1174.0 528.6 1175.2 506.9 1176.4 502.5C1177.2 499.6 1178.0 497.1 1178.8 497.1C1179.8 497.1 1180.8 511.3 1181.8 515.0C1182.7 518.3 1183.6 522.1 1184.5 522.1C1185.4 522.1 1186.2 511.6 1187.1 507.9C1188.8 500.8 1190.5 490.9 1192.1 490.9C1193.8 490.9 1195.4 495.9 1197.0 502.5C1197.9 506.2 1198.8 522.5 1199.6 529.3C1200.8 538.3 1202.0 545.9 1203.2 550.7C1204.7 556.7 1206.2 564.1 1207.7 564.1C1208.9 564.1 1210.1 558.1 1211.2 554.3C1212.1 551.5 1213.0 544.5 1213.9 544.5C1214.8 544.5 1215.7 552.6 1216.6 554.3C1218.1 557.1 1219.6 556.7 1221.1 559.6C1222.0 561.4 1222.9 571.2 1223.8 571.2C1224.9 571.2 1226.1 567.3 1227.3 556.1C1227.7 552.1 1228.2 457.5 1228.6 457.5C1229.9 457.5 1231.3 477.2 1232.7 483.8C1234.2 490.9 1235.7 500.7 1237.1 500.7C1238.2 500.7 1239.2 480.1 1240.2 466.4C1241.1 454.4 1242.0 429.8 1242.9 421.8C1244.3 408.4 1245.8 395.9 1247.3 395.9C1248.2 395.9 1249.1 408.1 1250.0 416.4C1250.9 424.8 1251.8 437.3 1252.7 448.6C1253.6 459.8 1254.5 476.3 1255.4 484.3C1256.2 492.2 1257.1 495.0 1258.0 502.1C1258.8 508.4 1259.6 525.4 1260.4 525.4C1261.7 525.4 1263.0 505.8 1264.3 503.9C1265.8 501.8 1267.3 502.1 1268.8 500.4C1269.9 499.0 1271.1 498.1 1272.3 493.2C1272.9 490.8 1273.5 461.9 1274.1 448.6C1275.0 428.6 1275.9 410.8 1276.8 395.0C1277.4 384.5 1278.0 370.6 1278.6 366.4C1279.5 360.1 1280.4 354.8 1281.2 354.8C1282.1 354.8 1283.0 362.5 1283.9 370.0C1284.8 377.5 1285.7 403.3 1286.6 412.9C1287.5 422.4 1288.4 432.0 1289.3 434.3C1290.5 437.4 1291.7 437.6 1292.9 439.6C1293.8 441.2 1294.6 445.0 1295.5 445.0C1296.4 445.0 1297.3 425.4 1298.2 425.4C1299.4 425.4 1300.6 435.1 1301.8 436.1C1303.0 437.1 1304.2 436.8 1305.4 437.9C1306.5 438.9 1307.7 457.5 1308.9 457.5C1310.1 457.5 1311.3 445.3 1312.5 430.7C1313.1 423.4 1313.7 392.7 1314.3 386.1C1315.4 374.1 1316.4 364.6 1317.5 364.6C1318.5 364.6 1319.5 378.8 1320.5 386.1C1321.4 392.5 1322.3 402.0 1323.2 405.7C1323.8 408.2 1324.4 411.1 1325.0 411.1C1325.9 411.1 1326.8 390.0 1327.7 377.1C1328.6 364.3 1329.5 341.9 1330.4 332.5C1331.5 320.0 1332.7 305.7 1333.9 305.7C1334.8 305.7 1335.7 315.1 1336.6 323.6C1337.5 332.1 1338.4 358.0 1339.3 368.2C1340.5 381.8 1341.7 392.1 1342.9 398.6C1344.0 405.0 1345.2 406.6 1346.4 412.9C1347.6 419.1 1348.8 432.1 1350.0 439.6C1351.2 447.2 1352.4 459.3 1353.6 459.3C1354.8 459.3 1356.0 434.5 1357.1 430.7C1358.3 426.9 1359.5 424.3 1360.7 423.6C1362.5 422.5 1364.3 423.1 1366.1 421.8C1367.0 421.1 1367.9 391.9 1368.8 377.1C1369.8 360.4 1370.8 327.1 1371.8 327.1C1372.9 327.1 1373.9 342.4 1375.0 359.3C1375.6 368.7 1376.2 407.3 1376.8 412.9C1378.0 423.9 1379.2 423.9 1380.4 430.7C1381.2 435.9 1382.1 441.9 1383.0 448.6C1384.2 457.4 1385.4 478.9 1386.6 478.9C1388.4 478.9 1390.2 470.2 1392.0 468.2C1393.5 466.5 1394.9 466.9 1396.4 464.6C1397.3 463.3 1398.2 457.9 1399.1 448.6C1399.7 442.3 1400.3 409.5 1400.9 395.0C1401.8 373.3 1402.7 350.2 1403.6 341.4C1404.6 330.9 1405.7 320.9 1406.8 320.9C1407.5 320.9 1408.2 337.6 1408.9 350.4C1409.5 361.0 1410.1 385.3 1410.7 395.0C1411.3 404.7 1411.9 416.4 1412.5 416.4C1413.4 416.4 1414.3 385.5 1415.2 377.1C1416.0 369.9 1416.7 361.1 1417.5 361.1C1418.5 361.1 1419.5 371.2 1420.5 377.1C1421.4 382.4 1422.3 389.7 1423.2 395.0C1424.1 400.3 1425.0 409.3 1425.9 409.3C1427.4 409.3 1428.9 404.0 1430.4 395.0C1431.0 391.4 1431.5 365.9 1432.1 362.9C1432.9 359.2 1433.6 356.6 1434.3 356.6C1435.4 356.6 1436.4 367.8 1437.5 377.1C1438.4 384.9 1439.3 400.6 1440.2 412.9C1440.9 422.7 1441.6 443.2 1442.3 443.2C1443.1 443.2 1443.9 411.1 1444.6 403.9C1445.5 395.6 1446.4 387.0 1447.3 387.0C1448.2 387.0 1449.1 405.8 1450.0 409.3C1451.2 414.0 1452.4 415.6 1453.6 418.2C1455.1 421.5 1456.5 427.1 1458.0 427.1C1459.5 427.1 1461.0 425.4 1462.5 425.4C1463.4 425.4 1464.3 438.4 1465.2 448.6C1466.1 458.8 1467.0 485.6 1467.9 493.2C1468.5 498.3 1469.0 503.9 1469.6 503.9C1470.5 503.9 1471.4 483.9 1472.3 466.4C1472.9 454.8 1473.5 423.7 1474.1 412.9C1475.3 391.1 1476.5 369.1 1477.7 369.1C1478.6 369.1 1479.5 395.0 1480.4 412.9C1481.0 424.8 1481.5 453.4 1482.1 457.5C1482.7 461.6 1483.3 464.6 1483.9 464.6C1485.1 464.6 1486.3 446.2 1487.5 439.6C1488.7 433.1 1489.9 423.6 1491.1 423.6C1492.3 423.6 1493.5 441.7 1494.6 443.2C1496.4 445.5 1498.2 445.2 1500.0 446.8C1501.2 447.8 1502.4 451.2 1503.6 451.2C1505.4 451.2 1507.1 440.9 1508.9 430.7C1510.1 423.9 1511.3 402.4 1512.5 395.0C1513.7 387.6 1514.9 378.9 1516.1 378.9C1516.8 378.9 1517.5 383.2 1518.2 386.2C1519.2 390.5 1520.2 403.8 1521.2 403.8C1522.5 403.8 1523.8 391.4 1525.0 380.0C1525.8 372.4 1526.7 355.7 1527.5 342.5C1528.1 332.6 1528.8 319.2 1529.4 311.2C1529.9 304.4 1530.5 294.4 1531.0 294.4C1531.7 294.4 1532.4 303.6 1533.1 311.2C1533.8 318.0 1534.4 332.1 1535.0 342.5C1535.6 352.9 1536.2 364.5 1536.9 373.8C1537.5 383.0 1538.1 391.6 1538.8 398.8C1539.4 405.9 1540.0 413.2 1540.6 417.5C1541.2 421.8 1541.9 427.5 1542.5 427.5C1543.3 427.5 1544.2 418.4 1545.0 411.2C1545.8 404.1 1546.7 390.2 1547.5 380.0C1548.1 372.4 1548.8 360.5 1549.4 357.5C1550.1 354.1 1550.8 351.2 1551.5 351.2C1552.0 351.2 1552.6 360.2 1553.1 367.5C1553.5 373.1 1554.0 382.5 1554.4 392.5C1554.8 402.5 1555.2 420.0 1555.6 430.0C1556.0 440.0 1556.5 447.6 1556.9 455.0C1557.7 469.8 1558.5 493.8 1559.4 493.8C1560.2 493.8 1561.0 485.9 1561.9 480.0C1562.7 474.1 1563.5 466.3 1564.4 455.0C1565.0 446.5 1565.6 431.0 1566.2 417.5C1566.9 404.0 1567.5 382.6 1568.1 373.8C1568.8 363.8 1569.5 352.5 1570.2 352.5C1571.0 352.5 1571.8 363.8 1572.5 367.5C1573.1 370.6 1573.8 373.5 1574.4 375.0C1575.4 377.5 1576.5 377.4 1577.5 380.0C1577.7 380.5 1577.9 381.7 1578.1 382.5"/>
<path class="b" stroke="#009900" d="M286.2 1074H289.7M292.2 1074H293.7M297.2 1074H300.7M302.3 1074H307.8M309.3 1074H312.8M315.3 1074H318.8M322.3 1074H325.9M329.4 1074H332.4M339.9 1074H341.4M344.4 1074H347.5M350.5 1074H352.5M354.0 1074H355.5"/>
<path class="b" stroke="#ff0000" d="M284.7 1074H285.7M290.2 1074H291.7M301.0 1074H301.8M308.0 1074H308.8M319.3 1074H321.8M326.4 1074H328.4M332.9 1074H335.9"/>
<path class="b" stroke="#002cd2" d="M250.0 1074H282.2M381.1 1074H402.0"/>
</g>
<g id="legend">
<g>
<text transform="translate(293.41 101.40) scale(0.9974 1.0000)" font-size="69" font-style="italic">T</text>
<text transform="translate(330.65 111.50) scale(1.1459 1.0000)" font-size="50">in</text>
<text transform="translate(395.46 104.24) scale(1.5504 0.9662)" font-size="65">=</text>
<text transform="translate(469.43 101.40) scale(0.9915 1)" font-size="67">2436</text>
<text transform="translate(617.74 101.40) scale(0.9787 1.0000)" font-size="69">K</text>
</g>
<g>
<text transform="translate(293.41 174.60) scale(0.9974 1.0000)" font-size="69" font-style="italic">T</text>
<text transform="translate(330.65 184.70) scale(1.1459 1.0000)" font-size="50">in</text>
<text transform="translate(395.46 177.44) scale(1.5504 0.9662)" font-size="65">=</text>
<text transform="translate(469.43 174.60) scale(0.9915 1)" font-size="67">2124</text>
<text transform="translate(617.74 174.60) scale(0.9787 1.0000)" font-size="69">K</text>
</g>
<g>
<text transform="translate(1038.41 101.40) scale(0.9974 1.0000)" font-size="69" font-style="italic">T</text>
<text transform="translate(1075.65 111.50) scale(1.1459 1.0000)" font-size="50">in</text>
<text transform="translate(1140.46 104.24) scale(1.5504 0.9662)" font-size="65">=</text>
<text transform="translate(1214.43 101.40) scale(0.9915 1)" font-size="67">1812</text>
<text transform="translate(1362.74 101.40) scale(0.9787 1.0000)" font-size="69">K</text>
</g>
<g>
<text transform="translate(1038.41 174.60) scale(0.9974 1.0000)" font-size="69" font-style="italic">T</text>
<text transform="translate(1075.65 184.70) scale(1.1459 1.0000)" font-size="50">in</text>
<text transform="translate(1140.46 177.44) scale(1.5504 0.9662)" font-size="65">=</text>
<text transform="translate(1214.43 174.60) scale(0.9915 1)" font-size="67">1500</text>
<text transform="translate(1362.74 174.60) scale(0.9787 1.0000)" font-size="69">K</text>
</g>
<line x1="789" y1="87" x2="966" y2="87" stroke="#ff0000" stroke-width="4"/>
<line x1="789" y1="160" x2="966" y2="160" stroke="#009900" stroke-width="4"/>
<line x1="1517" y1="87" x2="1694" y2="87" stroke="#000000" stroke-width="4"/>
<line x1="1517" y1="160" x2="1694" y2="160" stroke="#0000ff" stroke-width="4"/>
</g>
<g id="ticklabels">
<text transform="translate(147.07 316.36) scale(0.9545 1.0000)" font-size="67">1.6</text>
<text transform="translate(146.94 511.12) scale(0.9770 1.0000)" font-size="67">1.2</text>
<text transform="translate(145.33 705.88) scale(0.9695 1.0000)" font-size="67">0.8</text>
<text transform="translate(145.31 900.64) scale(0.9763 1.0000)" font-size="67">0.4</text>
<text transform="translate(145.37 1095.40) scale(0.9917 1.0000)" font-size="67">0.0</text>
<text transform="translate(234.34 1158.30) scale(1.0246 1.0000)" font-size="67">0</text>
<text transform="translate(512.58 1158.30) scale(1.0065 1.0000)" font-size="67">20</text>
<text transform="translate(807.94 1158.30) scale(1.0055 1.0000)" font-size="67">40</text>
<text transform="translate(1103.21 1158.30) scale(0.9967 1.0000)" font-size="67">60</text>
<text transform="translate(1399.77 1158.30) scale(0.9726 1.0000)" font-size="67">80</text>
<text transform="translate(1676.54 1158.30) scale(0.9935 1.0000)" font-size="67">100</text>
</g>
<g id="labels">
<g>
<text transform="translate(869.61 1304.90) scale(1.0323 1.0000)" font-size="69">Time </text>
<text transform="translate(1038.71 1310.56) scale(0.6581 1.1930)" font-size="69">[</text>
<text transform="translate(1052.92 1304.90) scale(1.1209 1.0000)" font-size="69">s</text>
<text transform="translate(1087.31 1310.56) scale(0.6754 1.1930)" font-size="69">]</text>
</g>
<g>
<text transform="translate(76.5 945.2) rotate(-90) translate(-2.21 0.00) scale(1.1029 1.0000)" font-size="69">Heat </text>
<text transform="translate(76.5 945.2) rotate(-90) translate(157.43 0.00) scale(1.0350 1.0000)" font-size="69">flow </text>
<text transform="translate(76.5 945.2) rotate(-90) translate(308.36 0.00) scale(1.0935 1.0000)" font-size="69">rate </text>
<text transform="translate(76.5 945.2) rotate(-90) translate(442.47 5.32) scale(0.6452 1.1983)" font-size="69">[</text>
<text transform="translate(76.5 945.2) rotate(-90) translate(456.35 0.00) scale(1.0753 1.0000)" font-size="69">MW</text>
<text transform="translate(76.5 945.2) rotate(-90) translate(591.66 5.32) scale(0.6557 1.1983)" font-size="69">]</text>
</g>
<g>
<text transform="translate(522.10 391.60) scale(1.0291 1.0000)" font-size="69">West </text>
<text transform="translate(680.00 391.60) scale(1.1089 1.0000)" font-size="69">vent</text>
</g>
<g>
<text transform="translate(828.62 940.80) scale(1.0405 1.0000)" font-size="69">Forced </text>
<text transform="translate(1045.88 940.80) scale(1.0632 1.0000)" font-size="69">extraction </text>
<text transform="translate(1354.84 940.80) scale(1.0545 1.0000)" font-size="69">grilles</text>
</g>
</g>
</svg>
</body></html>
